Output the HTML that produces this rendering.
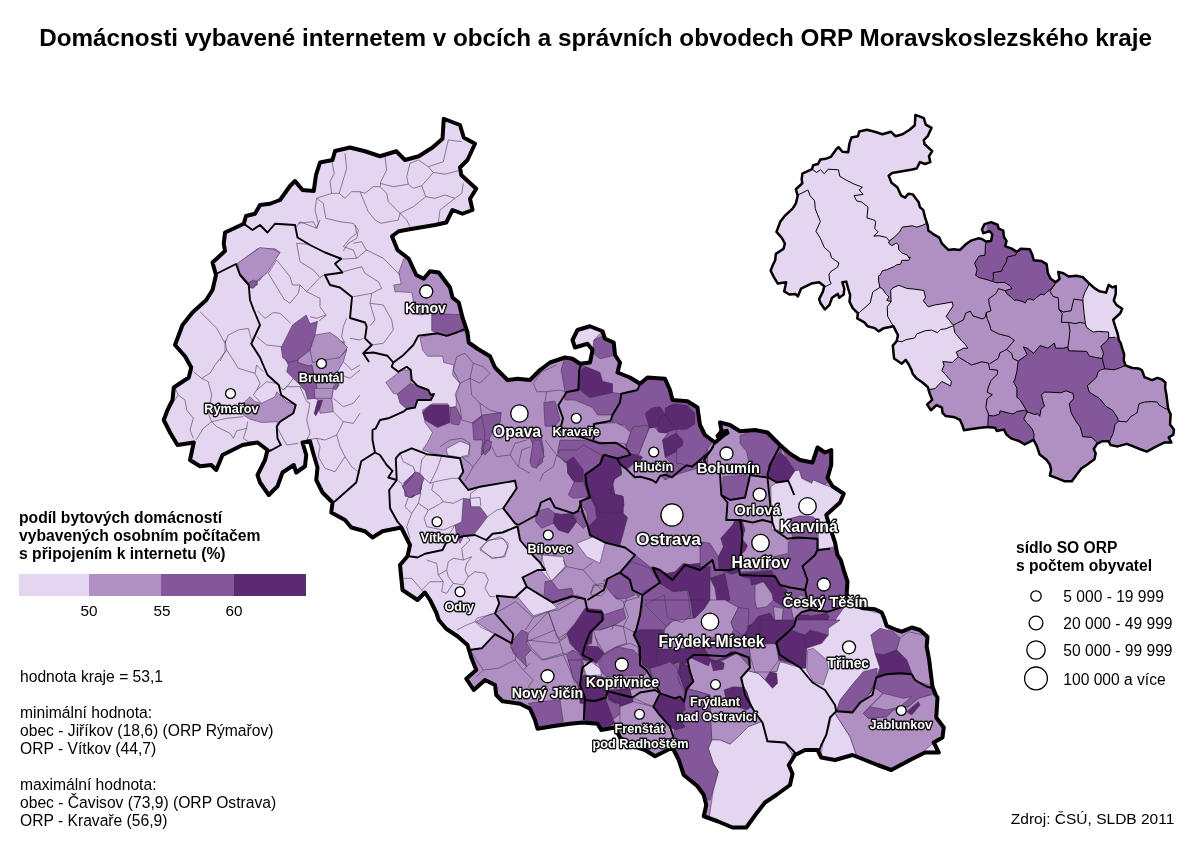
<!DOCTYPE html>
<html lang="cs"><head><meta charset="utf-8"><title>Domácnosti vybavené internetem</title>
<style>
html,body{margin:0;padding:0;background:#fff;}
body{width:1200px;height:850px;position:relative;overflow:hidden;font-family:"Liberation Sans",Arial,sans-serif;color:#000;}
.t{position:absolute;white-space:nowrap;line-height:1;}
#title{left:39.2px;top:26.3px;font-size:24.25px;font-weight:bold;}
.b{font-weight:bold;}
svg{position:absolute;left:0;top:0;}
</style></head><body>
<svg width="1200" height="850" viewBox="0 0 1200 850">
<defs><clipPath id="cp"><polygon points="443.75,118.75 460,125 463.75,137.5 475,143.75 467.5,160 460,167.5 461.25,175 476.25,188.75 470,198.75 472.5,210 462.5,213.75 452.5,210 446.25,222.5 435,225 412.5,228.75 398.75,231.25 392,236.25 397.5,250 408.75,258.75 416.25,275 423.75,278.75 430,271.25 438.75,272.5 450,287.5 452.5,297.5 458.75,302.5 462.5,317.5 467.5,332.5 468.75,342.5 477.5,348.75 490,356.25 495,367.5 507.5,380 517.5,378.75 530,380 540,370 550,362.5 565,357.5 572.5,358.75 580,363.75 590,362.5 592.5,350 587.5,343.75 575,347.5 572.5,340 577.5,330 590,326.25 602.5,331.25 605,338.75 613.75,342.5 615,355 620,362.5 617.5,372.5 630,377.5 640,383.75 647.5,377.5 665,378.75 670,390 672.5,400 687.5,401.25 697.5,407.5 700,425 705,435 715,442.5 722.5,436.25 720,422.5 730,425 740,431.25 755,430 767.5,432.5 780,445 790,453.75 800,460 812.5,462.5 817.5,447.5 825,452.5 831.25,450 831.25,465 827.5,478 832.5,486.25 843.75,493.75 840,502.5 826.25,515 830,527.5 835,542.5 837.5,555 840.8,560 844.2,571.7 847.5,581.7 846.7,593.3 850,603.3 863.3,608.3 875,609.2 881.7,612.5 884.2,618.3 886.7,625.8 896.7,630 901.7,631.7 911.7,627.5 920,630 927.5,636.7 926.7,646.7 929.2,660 930.8,673.3 932.5,686.7 935.8,695 937.5,697.5 936.25,717.5 943.75,727.5 942.5,737.5 933.75,742.5 938.75,752.5 925,752.5 910,760 891.25,770 877.5,765 865,760 852.5,755 835,760 821.25,757.5 817.5,750 805,750 795,755 788.75,765 792.5,773.75 790,785 776.25,795 765,802.5 756.25,813.75 746.25,827.5 732.5,827.5 717.5,821.25 703.75,816.25 706.25,805 703.75,795 697.5,786.25 683.75,775 678.75,760 672.5,747.5 655,756.25 645,750 630,745 620,737.5 615,727.5 601.25,730 597.5,723.75 582.5,722.5 570,723.75 552.5,726.25 537.5,728.75 535,720 530,708.75 520,703.75 502.5,701.25 496.25,695 495,685 485,680 473.75,690 466.25,678.75 476.25,670 471.25,657.5 467.5,645 457.5,636.25 446.25,628.75 438.75,620 436.25,612.5 430,600 425,592.5 417.5,600 402.5,590 400,565 407.5,556.25 410,545 405,535 401.25,527.5 382.5,531.25 372.5,537.5 365,531.25 351.25,527.5 345,520 331.25,512.5 332.5,502.5 322.5,492.5 316.25,480 317.5,467.5 313.75,455 310,441.25 302.5,442.5 306.25,455 305,466.25 296.25,472.5 293.75,465 282.5,472.5 277.5,486.25 268.75,495 260,482.5 257.5,475 265,460 267.5,450 257.5,442.5 242.5,445 222.5,455 216.25,470 211.25,465 200,466.25 190,460 193.75,442.5 177.5,445 170,432.5 163.75,420 167.5,410 172.5,400 173.75,387.5 188.75,377.5 191.25,367.5 185,356.25 175,345 182.5,325 192.5,312.5 206.25,300 212.5,290 216,275 212.5,262.5 225,251 223.75,243.75 225,232.5 243.75,223.75 246,216 255,213.75 260,205 270,203.75 280,200 290,186 295,181 302.5,190 313.75,191 316,175 320,162.5 332.5,160 335,151 350,147.5 365,151.25 380,156.25 396.25,151.25 405,160 418.75,156.25 432.5,147.5 442.5,138.75"/></clipPath></defs>
<g clip-path="url(#cp)">
<rect x="150" y="100" width="820" height="740" fill="#e4d5f1"/>
<polygon points="480,352 468.75,342.5 464.2,329.2 456.7,332.5 446.7,335.8 437.5,333.3 420,337.5 422.5,350 427.5,356.25 442.5,356.25 443.75,362.5 453.75,365 452.5,375 460,383.75 456.25,395 456.25,406.25 450,407.5 447.5,403.75 432.5,403.75 422.5,410 425,422.5 432.5,432.5 427.5,442.5 422.5,450 441.7,455.8 460,458.3 463.3,471.7 459.2,478.3 468.3,490 480,486.7 515,480.8 516.7,488.3 503.3,508.3 515,523.3 518.3,525 520,540 532.5,555 540,562.5 545,570 537.5,570 522.5,577.5 526.7,586.7 515,597.5 496.7,595.8 499.2,603.3 495,613.3 490,614.2 475.8,621.7 483.3,626.7 495,634.2 481.7,648.3 469.2,650 455,655 455,850 970,850 970,300 480,300" fill="#b08fc3" stroke="#3d2a4a" stroke-width="0.5"/>
<polygon points="403.75,258.75 410,260 416.25,275 423.75,278.75 430,271.25 438.75,272.5 450,287.5 452.5,297.5 470,312 470,316 456.7,315.8 430.8,313.3 420,315 415.8,313.3 411.7,292.5 397.5,291.7 395,292 393.75,285 401.25,283.75 398.75,272.5" fill="#b08fc3" stroke="#3d2a4a" stroke-width="0.5"/>
<polygon points="237.5,263.8 257.5,248.8 275.0,248.8 280.0,252.5 270.0,265.0 260.0,280.0 253.8,283.8 248.8,283.8 241.2,275.0" fill="#b08fc3" stroke="#3d2a4a" stroke-width="0.5"/>
<polygon points="385.8,382.5 401.7,370 410,370 410.8,383.3 397.5,394.2 393.3,393.3" fill="#b08fc3" stroke="#3d2a4a" stroke-width="0.5"/>
<polygon points="431.7,313.3 446.7,314.2 470,315 470,330 456.7,332.5 446.7,335.8 437.5,333.3 431.7,330.8" fill="#84579a" stroke="#3d2a4a" stroke-width="0.5"/>
<polygon points="250.0,282.0 256.2,280.5 257.5,284.5 252.5,288.0 249.5,286.2" fill="#84579a" stroke="#3d2a4a" stroke-width="0.5"/>
<polygon points="397.5,394.2 410.8,383.3 417.5,385.8 428.3,390 430.8,395 430.8,400 417.5,400 415,407.5 406.7,409 400,403.3" fill="#84579a" stroke="#3d2a4a" stroke-width="0.5"/>
<polygon points="450.0,407.5 456.2,407.5 461.2,417.5 458.8,425.0 451.2,423.8" fill="#84579a" stroke="#3d2a4a" stroke-width="0.5"/>
<polygon points="472.5,422.5 482.5,415.0 501.2,412.5 500.0,422.5 492.5,430.0 486.2,450.0 481.2,455.0 482.5,440.0 473.8,440.0" fill="#84579a" stroke="#3d2a4a" stroke-width="0.5"/>
<polygon points="530.0,437.5 541.2,436.2 543.8,450.0 542.5,462.5 536.2,467.5 530.0,460.0 535.0,450.0" fill="#84579a" stroke="#3d2a4a" stroke-width="0.5"/>
<polygon points="543.8,402.5 555.0,401.2 560.0,420.0 555.0,426.2 545.0,426.2" fill="#84579a" stroke="#3d2a4a" stroke-width="0.5"/>
<polygon points="561.2,370.0 565.0,356.2 575.0,358.8 583.8,366.2 578.8,372.5 578.8,388.8 565.0,392.5 563.8,385.0" fill="#84579a" stroke="#3d2a4a" stroke-width="0.5"/>
<polygon points="592.5,352.5 593.8,340.0 602.5,336.2 615.0,341.2 616.2,355.0 600.0,358.8" fill="#84579a" stroke="#3d2a4a" stroke-width="0.5"/>
<polygon points="565.0,392.5 578.8,388.8 590.0,397.5 612.5,392.5 621.2,393.8 620.0,402.5 612.5,415.0 597.5,415.0 592.5,407.5 575.0,400.0 565.0,400.0" fill="#84579a" stroke="#3d2a4a" stroke-width="0.5"/>
<polygon points="621.2,393.8 637.5,390.0 640.0,385.0 647.5,375.0 667.5,377.5 672.5,400.0 687.5,401.2 700.0,407.5 707.5,430.0 707.5,465.0 675.0,475.0 665.0,480.0 660.0,475.0 643.8,470.0 640.0,460.0 630.0,452.5 625.0,445.0 630.0,435.0 625.0,425.0 612.5,425.0 612.5,415.0 620.0,402.5" fill="#84579a" stroke="#3d2a4a" stroke-width="0.5"/>
<polygon points="560.0,440.0 582.5,440.0 602.5,443.8 612.5,440.0 625.0,447.5 630.0,452.5 617.5,457.5 602.5,455.0 600.0,465.0 590.0,475.0 585.0,475.0 575.0,460.0 565.0,462.5 557.5,452.5" fill="#84579a" stroke="#3d2a4a" stroke-width="0.5"/>
<polygon points="403.8,482.5 415.0,472.5 422.5,476.2 421.2,490.0 412.5,497.5 405.0,496.2" fill="#84579a" stroke="#3d2a4a" stroke-width="0.5"/>
<polygon points="422.5,412.5 430.0,405.0 448.8,405.0 450.0,422.5 437.5,427.5 425.0,420.0" fill="#5c2a70" stroke="#3d2a4a" stroke-width="0.5"/>
<polygon points="578.8,372.5 585.0,366.2 600.0,372.5 602.5,381.2 612.5,383.8 612.5,392.5 600.0,395.0 590.0,397.5 578.8,388.8" fill="#5c2a70" stroke="#3d2a4a" stroke-width="0.5"/>
<polygon points="665.0,440.0 680.0,433.8 683.8,447.5 667.5,456.2" fill="#5c2a70" stroke="#3d2a4a" stroke-width="0.5"/>
<polygon points="567.5,462.5 575.0,456.2 583.8,470.0 582.5,482.5 572.5,480.0 567.5,472.5" fill="#5c2a70" stroke="#3d2a4a" stroke-width="0.5"/>
<polygon points="585.0,475.0 600.0,465.0 602.5,455.0 617.5,457.5 620.0,470.0 612.5,482.5 615.0,495.0 620.0,502.0 587.5,502.0 583.8,485.0" fill="#5c2a70" stroke="#3d2a4a" stroke-width="0.5"/>
<polygon points="575.0,350.0 570.0,340.0 576.2,327.5 590.0,325.0 603.8,330.0 593.8,340.0 592.5,352.5" fill="#e4d5f1" stroke="#3d2a4a" stroke-width="0.5"/>
<polygon points="446.2,448.8 460.0,441.2 470.0,445.0 468.8,456.2 460.0,457.5 447.5,455.0" fill="#e4d5f1" stroke="#3d2a4a" stroke-width="0.5"/>
<polygon points="676.7,426.7 690.0,403.3 696.7,408.3 698.3,423.3 701.7,433.3 712.5,441.7 703.3,455.0 701.7,460.0 690.0,466.7 680.0,463.3 676.7,463.3" fill="#84579a" stroke="#3d2a4a" stroke-width="0.5"/>
<polygon points="723.3,476.7 746.7,475.0 750.0,480.0 746.7,490.0 745.0,498.3 730.0,499.2 721.7,495.0" fill="#84579a" stroke="#3d2a4a" stroke-width="0.5"/>
<polygon points="740.0,435.8 753.3,430.0 765.0,430.8 770.0,438.3 780.0,445.0 781.7,451.7 770.8,463.3 768.3,473.3 765.8,476.7 750.0,468.3 746.7,451.7 740.0,443.3" fill="#84579a" stroke="#3d2a4a" stroke-width="0.5"/>
<polygon points="780.0,451.7 786.7,458.3 795.0,470.8 793.3,478.3 788.3,480.8 776.7,482.5 768.3,476.7 768.3,465.0" fill="#5c2a70" stroke="#3d2a4a" stroke-width="0.5"/>
<polygon points="780.0,443.3 786.7,458.3 795.0,470.8 799.2,470.0 801.7,478.3 811.7,483.3 813.3,480.0 825.0,485.0 829.2,480.0 840.0,473.3 840.0,443.3 813.3,443.3 813.3,463.3 800.0,460.0 788.3,453.3" fill="#84579a" stroke="#3d2a4a" stroke-width="0.5"/>
<polygon points="795.0,470.8 799.2,470.0 801.7,478.3 811.7,483.3 813.3,480.0 825.0,485.0 835.0,488.3 846.7,493.3 846.7,530.0 771.7,530.0 770.8,486.7 776.7,482.5 788.3,480.8" fill="#e4d5f1" stroke="#3d2a4a" stroke-width="0.5"/>
<polygon points="700.0,541.7 710.0,543.3 718.3,556.7 719.2,570.0 740.8,571.7 771.7,570.0 773.3,556.7 788.3,553.3 788.3,541.7 793.3,539.2 806.7,537.5 816.7,540.0 816.7,550.0 833.3,546.7 838.3,550.0 845.0,571.7 846.7,593.3 845.0,606.7 833.3,623.3 826.7,623.3 823.3,630.0 826.7,650.0 683.3,650.0 683.3,566.7 700.0,566.7" fill="#84579a" stroke="#3d2a4a" stroke-width="0.5"/>
<polygon points="735.8,519.2 742.5,521.7 745.0,530.0 741.7,538.3 747.5,545.8 745.0,550.8 740.8,555.0 740.0,571.7 731.7,574.2 719.2,570.0 718.3,556.7 723.3,546.7 720.8,538.3 732.5,525.0" fill="#5c2a70" stroke="#3d2a4a" stroke-width="0.5"/>
<polygon points="790.8,518.3 800.0,515.8 813.3,516.7 818.3,521.7 816.7,540.0 806.7,537.5 793.3,539.2 790.8,530.0" fill="#84579a" stroke="#3d2a4a" stroke-width="0.5"/>
<polygon points="818.3,531.7 833.3,530.0 835.0,546.7 818.3,550.0" fill="#e4d5f1" stroke="#3d2a4a" stroke-width="0.5"/>
<polygon points="740.8,573.3 771.7,570.8 778.3,585.0 773.3,588.3 763.3,581.7 751.7,585.0 750.0,578.3 741.7,576.7" fill="#5c2a70" stroke="#3d2a4a" stroke-width="0.5"/>
<polygon points="710.0,578.3 725.0,573.3 730.0,600.0 725.0,603.3 716.7,600.0 715.0,588.3" fill="#5c2a70" stroke="#3d2a4a" stroke-width="0.5"/>
<polygon points="690.0,568.3 700.0,568.3 710.0,578.3 706.7,586.7 700.0,583.3 690.0,586.7" fill="#5c2a70" stroke="#3d2a4a" stroke-width="0.5"/>
<polygon points="763.3,581.7 773.3,588.3 778.3,585.0 786.7,590.0 783.3,606.7 773.3,600.0 771.7,593.3 763.3,591.7" fill="#5c2a70" stroke="#3d2a4a" stroke-width="0.5"/>
<polygon points="745.0,626.7 755.0,623.3 758.3,616.7 770.0,613.3 775.0,621.7 786.7,626.7 785.0,650.0 745.0,650.0" fill="#5c2a70" stroke="#3d2a4a" stroke-width="0.5"/>
<polygon points="806.7,616.7 826.7,613.3 829.2,616.7 823.3,630.0 826.7,650.0 786.7,650.0 786.7,633.3 796.7,631.7 800.0,616.7" fill="#5c2a70" stroke="#3d2a4a" stroke-width="0.5"/>
<polygon points="700.0,580.0 710.0,578.3 715.0,588.3 716.7,600.0 738.3,606.7 730.0,620.0 721.7,623.3 716.7,616.7 706.7,613.3 700.0,603.3" fill="#b08fc3" stroke="#3d2a4a" stroke-width="0.5"/>
<polygon points="755.0,585.0 763.3,581.7 771.7,593.3 773.3,600.0 766.7,606.7 756.7,608.3 755.0,600.0" fill="#b08fc3" stroke="#3d2a4a" stroke-width="0.5"/>
<polygon points="773.3,606.7 783.3,608.3 781.7,623.3 775.0,621.7" fill="#b08fc3" stroke="#3d2a4a" stroke-width="0.5"/>
<polygon points="790.0,603.3 800.0,595.0 806.7,596.7 808.3,608.3 800.0,616.7 793.3,618.3" fill="#b08fc3" stroke="#3d2a4a" stroke-width="0.5"/>
<polygon points="826.7,623.3 833.3,623.3 845.0,606.7 866.7,610.0 883.3,616.7 888.3,630.0 873.3,631.7 870.0,650.0 826.7,650.0 823.3,630.0" fill="#e4d5f1"/>
<polygon points="557.5,455.8 559.2,450.0 576.7,450.0 583.3,445.0 601.7,455.0 600.0,465.0 585.0,473.3 584.2,483.3 588.3,496.7 573.3,498.3 568.3,495.0 574.2,481.7 568.3,473.3 566.7,461.7" fill="#84579a" stroke="#3d2a4a" stroke-width="0.5"/>
<polygon points="566.7,461.7 573.3,456.7 583.3,470.0 583.3,481.7 574.2,481.7 568.3,473.3" fill="#5c2a70" stroke="#3d2a4a" stroke-width="0.5"/>
<polygon points="601.7,455.8 620.0,461.7 621.7,473.3 615.0,476.7 610.0,495.0 623.3,496.7 623.3,513.3 627.5,517.5 620.0,545.0 606.7,541.7 590.0,536.7 588.3,526.7 596.7,518.3 595.0,506.7 590.0,496.7 585.0,483.3 585.0,473.3 600.0,465.0" fill="#5c2a70" stroke="#3d2a4a" stroke-width="0.5"/>
<polygon points="580.0,502.5 590.0,496.7 595.0,506.7 596.7,518.3 588.3,526.7 586.7,511.7" fill="#84579a" stroke="#3d2a4a" stroke-width="0.5"/>
<polygon points="535.8,511.7 548.3,508.3 555.0,513.3 553.3,523.3 541.7,528.3 535.8,521.7" fill="#84579a" stroke="#3d2a4a" stroke-width="0.5"/>
<polygon points="555.0,513.3 561.7,514.2 573.3,513.3 576.7,521.7 568.3,533.3 558.3,530.0 553.3,523.3" fill="#5c2a70" stroke="#3d2a4a" stroke-width="0.5"/>
<polygon points="575.0,513.3 583.3,510.0 587.5,525.0 583.3,528.3 576.7,521.7" fill="#84579a" stroke="#3d2a4a" stroke-width="0.5"/>
<polygon points="576.7,543.3 593.3,536.7 605.0,543.3 600.0,563.3 586.7,556.7" fill="#e4d5f1" stroke="#3d2a4a" stroke-width="0.5"/>
<polygon points="541.7,555.0 561.7,556.7 563.3,566.7 550.0,581.0 541.7,571.7" fill="#e4d5f1" stroke="#3d2a4a" stroke-width="0.5"/>
<polygon points="620.0,571.7 635.0,555.0 650.0,566.7 668.3,581.0 603.3,581.0" fill="#84579a" stroke="#3d2a4a" stroke-width="0.5"/>
<polygon points="653.3,568.3 666.7,573.3 676.7,571.7 683.3,565.0 700.0,563.3 700.0,581.0 668.3,581.0" fill="#5c2a70" stroke="#3d2a4a" stroke-width="0.5"/>
<polygon points="516.7,595.8 526.7,587.5 544.2,595.8 553.3,604.2 557.5,608.3 533.3,615.8" fill="#e4d5f1" stroke="#3d2a4a" stroke-width="0.5"/>
<polygon points="545.0,581.7 551.7,580.8 558.3,590.0 571.7,588.3 573.3,594.2 554.2,603.3 544.2,595.0" fill="#84579a" stroke="#3d2a4a" stroke-width="0.5"/>
<polygon points="606.7,580.0 616.7,573.3 628.3,576.7 631.7,588.3 635.0,595.0 626.7,598.3 616.7,599.2 610.0,591.7 605.0,585.0" fill="#84579a" stroke="#3d2a4a" stroke-width="0.5"/>
<polygon points="620.0,573.3 631.7,561.7 650.0,568.3 660.0,583.3 643.3,591.7 638.3,596.7 631.7,588.3 628.3,576.7" fill="#84579a" stroke="#3d2a4a" stroke-width="0.5"/>
<polygon points="643.3,591.7 660.0,583.3 673.3,591.7 688.3,590.0 695.0,616.7 700.0,618.3 700.0,630.0 666.7,630.0 656.7,628.3 635.0,631.7 642.5,610.0 641.7,600.0" fill="#84579a" stroke="#3d2a4a" stroke-width="0.5"/>
<polygon points="651.7,568.3 668.3,578.3 676.7,570.0 683.3,563.3 700.0,566.7 710.0,566.7 710.0,618.3 695.0,616.7 688.3,590.0 673.3,591.7 660.0,583.3" fill="#5c2a70" stroke="#3d2a4a" stroke-width="0.5"/>
<polygon points="666.7,630.0 680.0,621.7 700.0,620.0 700.0,633.3 688.3,635.0" fill="#b08fc3" stroke="#3d2a4a" stroke-width="0.5"/>
<polygon points="633.3,631.7 650.0,629.2 657.5,633.3 658.3,648.3 656.7,666.7 646.7,668.3 638.3,655.0 638.3,643.3" fill="#5c2a70" stroke="#3d2a4a" stroke-width="0.5"/>
<polygon points="658.3,648.3 666.7,643.3 700.0,633.3 710.0,633.3 710.0,653.3 688.3,656.7 686.7,663.3 666.7,666.7 656.7,660.0" fill="#5c2a70" stroke="#3d2a4a" stroke-width="0.5"/>
<polygon points="646.7,670.0 656.7,666.7 666.7,666.7 676.7,668.3 678.3,686.7 683.3,701.0 660.0,701.0 660.0,691.7" fill="#84579a" stroke="#3d2a4a" stroke-width="0.5"/>
<polygon points="676.7,668.3 681.7,663.3 688.3,666.7 691.7,683.3 685.0,693.3 678.3,686.7" fill="#5c2a70" stroke="#3d2a4a" stroke-width="0.5"/>
<polygon points="688.3,658.3 700.0,655.0 710.0,655.0 710.0,701.0 685.0,701.0 691.7,683.3" fill="#b08fc3" stroke="#3d2a4a" stroke-width="0.5"/>
<polygon points="575.0,623.3 585.0,608.3 601.7,610.0 604.2,620.0 592.5,630.0 591.7,643.3 586.7,645.0 587.5,653.3 581.7,656.7 570.0,643.3 566.7,633.3" fill="#5c2a70" stroke="#3d2a4a" stroke-width="0.5"/>
<polygon points="586.7,645.8 598.3,646.7 604.2,653.3 596.7,663.3 583.3,660.0 581.7,656.7 587.5,653.3" fill="#5c2a70" stroke="#3d2a4a" stroke-width="0.5"/>
<polygon points="603.3,615.0 623.3,608.3 625.8,618.3 615.0,625.0 600.0,630.0 593.3,630.0 604.2,620.0" fill="#84579a" stroke="#3d2a4a" stroke-width="0.5"/>
<polygon points="598.3,663.3 604.2,653.3 616.7,646.7 633.3,650.0 638.3,655.0 646.7,670.0 645.0,675.0 606.7,676.7 602.5,673.3" fill="#84579a" stroke="#3d2a4a" stroke-width="0.5"/>
<polygon points="583.3,663.3 593.3,661.7 602.5,673.3 600.0,676.7 585.0,675.0" fill="#e4d5f1" stroke="#3d2a4a" stroke-width="0.5"/>
<polygon points="510.0,643.3 521.7,630.0 528.3,633.3 526.7,643.3 530.8,650.0 525.0,656.7 526.7,666.7 520.0,660.0 513.3,653.3" fill="#84579a" stroke="#3d2a4a" stroke-width="0.5"/>
<polygon points="566.7,655.0 573.3,650.0 581.7,656.7 583.3,663.3 583.3,671.7 578.3,686.7 573.3,676.7" fill="#84579a" stroke="#3d2a4a" stroke-width="0.5"/>
<polygon points="578.3,686.7 583.3,675.0 601.7,676.7 606.7,678.3 606.7,693.3 603.3,703.3 580.0,703.3" fill="#5c2a70" stroke="#3d2a4a" stroke-width="0.5"/>
<polygon points="608.3,691.7 626.7,690.0 633.3,703.3 608.3,703.3" fill="#5c2a70" stroke="#3d2a4a" stroke-width="0.5"/>
<polygon points="656.7,693.3 670.0,691.7 676.7,703.3 656.7,703.3" fill="#5c2a70" stroke="#3d2a4a" stroke-width="0.5"/>
<polygon points="528.3,703.3 540.0,701.7 560.0,700.0 563.3,721.7 540.0,730.0 533.3,731.7 535.0,716.7" fill="#84579a" stroke="#3d2a4a" stroke-width="0.5"/>
<polygon points="583.3,700.0 580.0,685.0 586.7,680.0 606.7,688.3 605.0,696.7 595.0,700.8" fill="#5c2a70" stroke="#3d2a4a" stroke-width="0.5"/>
<polygon points="583.3,700.8 595.0,701.7 605.0,697.5 613.3,720.0 615.0,723.3 600.0,731.7 585.0,726.7" fill="#5c2a70" stroke="#3d2a4a" stroke-width="0.5"/>
<polygon points="605.0,697.5 623.3,708.3 625.0,710.0 613.3,719.2" fill="#84579a" stroke="#3d2a4a" stroke-width="0.5"/>
<polygon points="608.3,690.0 630.0,688.3 633.3,703.3 623.3,707.5 608.3,696.7" fill="#5c2a70" stroke="#3d2a4a" stroke-width="0.5"/>
<polygon points="568.3,660.0 581.7,660.0 580.8,670.0 580.0,685.0 573.3,678.3" fill="#84579a" stroke="#3d2a4a" stroke-width="0.5"/>
<polygon points="583.3,666.7 590.8,661.7 600.0,668.3 601.7,675.0 586.7,675.8" fill="#e4d5f1" stroke="#3d2a4a" stroke-width="0.5"/>
<polygon points="687.5,660.0 693.3,655.0 708.3,656.7 720.0,658.3 726.7,652.5 736.7,651.7 746.7,656.7 750.0,665.0 748.3,670.8 740.0,678.3 746.7,691.7 751.7,706.7 761.7,721.7 748.3,726.7 736.7,738.3 730.0,744.2 720.0,740.0 711.7,740.0 710.8,723.3 710.0,695.0 686.7,688.3 693.3,681.7 690.0,671.7" fill="#b08fc3" stroke="#3d2a4a" stroke-width="0.5"/>
<polygon points="740.0,678.3 748.3,670.8 758.3,673.3 765.0,680.0 770.0,671.7 776.7,671.7 780.0,661.7 808.3,670.0 836.7,678.3 836.7,756.7 791.7,753.3 785.0,743.3 766.7,741.7 765.0,733.3 761.7,721.7 751.7,706.7 746.7,691.7" fill="#e4d5f1" stroke="#3d2a4a" stroke-width="0.5"/>
<polygon points="708.3,748.3 711.7,740.0 720.0,740.0 730.0,744.2 736.7,738.3 748.3,726.7 761.7,721.7 765.0,733.3 766.7,741.7 785.0,743.3 791.7,753.3 803.3,856.7 703.3,856.7 713.3,790.0 718.3,771.7 713.3,763.3" fill="#e4d5f1" stroke="#3d2a4a" stroke-width="0.5"/>
<polygon points="684.2,701.7 686.7,688.3 710.0,695.0 710.8,723.3 711.7,740.0 708.3,748.3 713.3,763.3 718.3,771.7 713.3,790.0 710.0,800.0 686.7,800.0 678.3,756.7 673.3,736.7 675.0,730.0 685.0,726.7 678.3,716.7 685.0,710.0" fill="#84579a" stroke="#3d2a4a" stroke-width="0.5"/>
<polygon points="653.3,706.7 660.0,693.3 675.0,698.3 680.0,696.7 684.2,701.7 685.0,710.0 678.3,716.7 685.0,726.7 675.0,730.0 670.0,726.7 658.3,713.3" fill="#5c2a70" stroke="#3d2a4a" stroke-width="0.5"/>
<polygon points="677.5,668.3 683.3,663.3 690.0,671.7 691.7,681.7 686.7,688.3 684.2,691.7 678.3,680.0" fill="#5c2a70" stroke="#3d2a4a" stroke-width="0.5"/>
<polygon points="710.8,661.7 718.3,659.2 724.2,663.3 723.3,669.2 713.3,670.8" fill="#5c2a70" stroke="#3d2a4a" stroke-width="0.5"/>
<polygon points="724.2,690.0 733.3,686.7 743.3,687.5 746.7,691.7 751.7,706.7 746.7,710.0 736.7,706.7 726.7,703.3" fill="#5c2a70" stroke="#3d2a4a" stroke-width="0.5"/>
<polygon points="765.0,680.0 770.0,671.7 776.7,673.3 777.5,683.3 772.5,688.3" fill="#5c2a70" stroke="#3d2a4a" stroke-width="0.5"/>
<polygon points="748.3,670.8 753.3,650.0 775.0,648.3 780.0,661.7 776.7,671.7 770.0,671.7 765.0,680.0 758.3,673.3" fill="#b08fc3" stroke="#3d2a4a" stroke-width="0.5"/>
<polygon points="777.5,636.7 803.3,636.7 808.3,650.0 805.0,670.0 796.7,665.0 780.0,656.7 775.0,648.3" fill="#5c2a70" stroke="#3d2a4a" stroke-width="0.5"/>
<polygon points="808.3,650.0 820.0,646.7 830.0,650.0 830.0,681.7 811.7,673.3 806.7,665.0" fill="#b08fc3" stroke="#3d2a4a" stroke-width="0.5"/>
<polygon points="642.5,600.0 692.0,600.0 693.5,618.0 669.5,622.5 663.5,630.0 639.5,630.0 635.0,633.0 642.5,609.0" fill="#84579a" stroke="#3d2a4a" stroke-width="0.5"/>
<polygon points="690.5,600.0 704.0,600.0 705.5,612.0 698.0,619.5 693.5,618.0" fill="#5c2a70" stroke="#3d2a4a" stroke-width="0.5"/>
<polygon points="729.5,636.0 743.0,636.0 749.0,645.0 750.5,657.0 749.0,666.0 737.0,652.5 731.0,651.0 725.0,657.0 716.0,661.5 710.0,658.5 704.0,648.0 716.0,634.5" fill="#84579a" stroke="#3d2a4a" stroke-width="0.5"/>
<polygon points="665.0,628.5 672.5,621.0 695.0,618.0 704.0,609.0 710.0,600.0 725.0,600.0 738.5,607.5 731.0,622.5 734.0,630.0 729.5,636.0 716.0,634.5 704.0,648.0 657.5,649.5 663.5,639.0" fill="#b08fc3" stroke="#3d2a4a" stroke-width="0.5"/>
<polygon points="635.0,633.0 639.5,630.0 663.5,630.0 665.0,639.0 657.5,649.5 656.0,660.0 659.0,666.0 648.5,669.0 642.5,664.5 639.5,649.5" fill="#5c2a70" stroke="#3d2a4a" stroke-width="0.5"/>
<polygon points="657.5,649.5 704.0,648.0 710.0,658.5 716.0,661.5 725.0,657.0 731.0,651.0 735.5,654.0 723.5,660.0 710.0,661.5 708.5,666.0 689.0,657.0 686.0,663.0 680.0,661.5 665.0,667.5 659.0,666.0 656.0,660.0" fill="#5c2a70" stroke="#3d2a4a" stroke-width="0.5"/>
<polygon points="731.0,622.5 738.5,607.5 749.0,609.0 747.5,630.0 743.0,636.0 734.0,630.0" fill="#84579a" stroke="#3d2a4a" stroke-width="0.5"/>
<polygon points="747.5,630.0 758.0,616.5 770.0,613.5 776.0,622.5 782.0,637.5 776.0,643.5 770.0,639.0 764.0,634.5 755.0,637.5 744.5,637.5" fill="#5c2a70" stroke="#3d2a4a" stroke-width="0.5"/>
<polygon points="749.0,645.0 776.0,643.5 779.0,660.0 770.0,672.0 755.0,672.0 750.5,657.0" fill="#b08fc3" stroke="#3d2a4a" stroke-width="0.5"/>
<polygon points="776.0,643.5 785.0,636.0 794.0,625.5 800.0,615.0 809.0,615.0 809.0,669.0 789.5,663.0 779.0,660.0" fill="#5c2a70" stroke="#3d2a4a" stroke-width="0.5"/>
<polygon points="659.0,666.0 665.0,667.5 680.0,661.5 678.5,672.0 686.0,693.0 680.0,699.0 659.0,693.0 650.0,672.0 648.5,669.0" fill="#84579a" stroke="#3d2a4a" stroke-width="0.5"/>
<polygon points="678.5,672.0 683.0,663.0 689.0,666.0 693.5,681.0 686.0,693.0" fill="#5c2a70" stroke="#3d2a4a" stroke-width="0.5"/>
<polygon points="650.0,668.3 661.7,665.0 670.0,661.7 677.5,668.3 678.3,680.0 684.2,691.7 684.2,701.7 680.0,696.7 675.0,698.3 660.0,693.3 653.3,683.3" fill="#84579a" stroke="#3d2a4a" stroke-width="0.5"/>
<polygon points="630.0,690.0 653.3,683.3 660.0,693.3 653.3,706.7 645.0,703.3 630.0,696.7" fill="#b08fc3" stroke="#3d2a4a" stroke-width="0.5"/>
<polygon points="620.0,690.0 630.0,690.0 633.3,701.7 620.0,706.7" fill="#5c2a70" stroke="#3d2a4a" stroke-width="0.5"/>
<polygon points="620.0,706.7 633.3,701.7 653.3,706.7 658.3,713.3 670.0,726.7 673.3,736.7 676.7,748.3 653.3,756.7 636.7,756.7 620.0,746.7" fill="#b08fc3" stroke="#3d2a4a" stroke-width="0.5"/>
<polygon points="795.0,620.0 791.7,630.0 776.7,645.0 781.7,655.0 801.7,668.3 813.3,681.7 823.3,686.7 833.3,700.0 836.7,710.0 840.0,700.0 853.3,683.3 863.3,671.7 876.7,668.3 880.0,668.3 875.0,653.3 870.8,635.0 880.0,628.3 886.7,613.3 843.3,613.3 840.0,620.0" fill="#e4d5f1"/>
<polygon points="835.0,713.3 850.0,736.7 861.7,770.0 818.3,770.0 823.3,741.7 828.3,730.0 831.7,715.0" fill="#e4d5f1" stroke="#3d2a4a" stroke-width="0.5"/>
<polygon points="776.7,645.0 791.7,630.0 805.0,635.0 806.7,648.3 805.8,668.3 801.7,668.3 781.7,655.0" fill="#5c2a70" stroke="#3d2a4a" stroke-width="0.5"/>
<polygon points="803.3,635.0 810.0,630.0 828.3,635.0 821.7,643.3 806.7,648.3" fill="#5c2a70" stroke="#3d2a4a" stroke-width="0.5"/>
<polygon points="760.0,620.0 795.0,620.0 791.7,630.0 776.7,645.0 770.0,641.7 760.0,641.7" fill="#5c2a70" stroke="#3d2a4a" stroke-width="0.5"/>
<polygon points="795.0,620.0 840.0,620.0 828.3,628.3 828.3,635.0 810.0,630.0 805.0,635.0 791.7,630.0" fill="#84579a" stroke="#3d2a4a" stroke-width="0.5"/>
<polygon points="807.5,650.0 813.3,648.3 826.7,660.0 828.3,670.0 823.3,685.0 813.3,681.7 806.7,670.0" fill="#b08fc3" stroke="#3d2a4a" stroke-width="0.5"/>
<polygon points="870.8,635.0 880.0,628.3 893.3,631.7 900.0,638.3 896.7,650.0 883.3,655.0 875.0,653.3" fill="#84579a" stroke="#3d2a4a" stroke-width="0.5"/>
<polygon points="900.0,638.3 908.3,631.7 923.3,635.0 936.7,653.3 936.7,686.7 916.7,681.7 911.7,673.3 906.7,660.0 896.7,650.0" fill="#b08fc3" stroke="#3d2a4a" stroke-width="0.5"/>
<polygon points="875.0,653.3 883.3,655.0 896.7,650.0 906.7,660.0 911.7,673.3 886.7,673.3 876.7,676.7 880.0,668.3" fill="#5c2a70" stroke="#3d2a4a" stroke-width="0.5"/>
<polygon points="836.7,710.0 840.0,700.0 853.3,683.3 863.3,671.7 876.7,668.3 876.7,676.7 870.0,693.3 853.3,711.7" fill="#84579a" stroke="#3d2a4a" stroke-width="0.5"/>
<polygon points="836.7,710.0 853.3,711.7 870.0,693.3 873.3,686.7 883.3,693.3 870.0,706.7 863.3,713.3 868.3,718.3 886.7,716.7 893.3,710.0 908.3,706.7 918.3,698.3 933.3,693.3 953.3,723.3 953.3,770.0 861.7,770.0 850.0,736.7 835.0,713.3" fill="#b08fc3" stroke="#3d2a4a" stroke-width="0.5"/>
<polygon points="876.7,676.7 886.7,673.3 911.7,674.2 916.7,681.7 930.0,686.7 936.7,693.3 918.3,698.3 908.3,706.7 893.3,710.0 886.7,716.7 868.3,718.3 863.3,713.3 870.0,706.7 883.3,693.3 873.3,686.7 870.0,693.3" fill="#84579a" stroke="#3d2a4a" stroke-width="0.5"/>
<polygon points="883.3,693.3 903.3,698.3 911.7,696.7 900.0,706.7 886.7,710.0 870.0,706.7" fill="#b08fc3" stroke="#3d2a4a" stroke-width="0.5"/>
<polygon points="906.7,711.7 918.3,701.7 920.0,705.0 911.7,715.0" fill="#5c2a70" stroke="#3d2a4a" stroke-width="0.5"/>
<polygon points="925.0,750.0 933.3,743.3 941.7,753.3 928.3,758.3" fill="#e4d5f1" stroke="#3d2a4a" stroke-width="0.5"/>
<polygon points="402.5,486.2 415.0,472.5 422.5,480.0 420.0,492.5 410.0,497.5" fill="#84579a" stroke="#3d2a4a" stroke-width="0.5"/>
<polygon points="402.5,486.7 410.0,480.0 415.0,471.7 420.0,473.3 424.2,478.3 420.0,488.3 420.8,493.3 408.3,497.5 405.0,491.7" fill="#84579a" stroke="#3d2a4a" stroke-width="0.5"/>
<polygon points="455.0,525.0 461.7,521.7 463.3,498.3 470.0,499.2 470.8,506.7 480.0,506.7 487.5,516.7 480.0,526.7 473.3,535.0 463.3,536.7 460.0,543.3 456.7,536.7" fill="#84579a" stroke="#3d2a4a" stroke-width="0.5"/>
<polygon points="481.7,448.3 486.7,440.0 491.7,441.7 490.0,450.0 485.0,455.0" fill="#84579a" stroke="#3d2a4a" stroke-width="0.5"/>
<polygon points="530.0,461.7 533.3,440.0 540.0,440.0 544.2,456.7 540.0,460.0 536.7,468.3 531.7,466.7" fill="#84579a" stroke="#3d2a4a" stroke-width="0.5"/>
<polygon points="542.5,555.0 563.3,556.7 565.0,566.7 551.7,581.0 546.7,573.3 542.5,560.0" fill="#e4d5f1" stroke="#3d2a4a" stroke-width="0.5"/>
<polygon points="237.5,263.3 260.0,247.5 273.3,249.2 280.0,252.5 266.7,273.3 256.7,280.8 248.3,282.5 240.0,273.3" fill="#b08fc3" stroke="#3d2a4a" stroke-width="0.5"/>
<polygon points="248.3,283.3 253.3,280.0 257.5,282.5 253.3,288.3 250.0,287.5" fill="#84579a" stroke="#3d2a4a" stroke-width="0.5"/>
<polygon points="243.3,403.3 250.0,396.7 255.0,401.7 261.7,403.3 275.0,396.7 276.7,391.7 280.0,395.0 286.7,401.7 295.8,405.0 293.3,413.3 280.0,421.7 276.7,426.7 277.5,421.7 261.7,422.5 250.0,419.2 243.3,415.0" fill="#b08fc3" stroke="#3d2a4a" stroke-width="0.5"/>
<polygon points="298.3,358.3 305.0,353.3 311.7,348.3 316.7,340.0 331.7,340.0 330.0,348.3 341.7,355.0 346.7,350.0 343.3,361.7 336.7,373.3 333.3,388.3 331.7,398.3 333.3,411.7 320.0,413.3 318.3,400.0 315.0,398.3 316.7,386.7 313.3,371.7 311.7,365.0 308.3,365.8 297.5,362.5" fill="#b08fc3" stroke="#3d2a4a" stroke-width="0.5"/>
<polygon points="281.7,347.5 290.0,340.0 310.0,336.7 311.7,348.3 305.0,353.3 298.3,358.3 297.5,362.5 308.3,365.8 311.7,365.0 313.3,371.7 316.7,386.7 315.0,398.3 307.5,399.2 305.0,390.0 293.3,378.3 286.7,371.7 288.3,365.0 283.3,355.0" fill="#84579a" stroke="#3d2a4a" stroke-width="0.5"/>
<polygon points="330.0,348.3 333.3,340.0 343.3,341.7 346.7,350.0 341.7,355.0" fill="#b08fc3" stroke="#3d2a4a" stroke-width="0.5"/>
<polygon points="314.2,388.3 333.3,388.3 331.7,398.3 315.0,398.3" fill="#b08fc3" stroke="#3d2a4a" stroke-width="0.5"/>
<polygon points="314.2,413.3 317.5,400.8 322.5,400.0 320.0,408.3 315.8,415.8" fill="#5c2a70" stroke="#3d2a4a" stroke-width="0.5"/>
<polygon points="333.3,388.3 336.7,381.7 339.2,385.0 335.8,390.0" fill="#84579a" stroke="#3d2a4a" stroke-width="0.5"/>
<polygon points="281.2,347.5 292.5,325.0 306.2,315.0 310.0,323.8 317.5,321.2 315.0,335.0 310.0,350.0 297.5,360.0 288.8,362.5 282.5,357.5" fill="#84579a" stroke="#3d2a4a" stroke-width="0.5"/>
<polygon points="310.0,350.0 315.0,335.0 330.0,332.5 337.5,337.5 347.5,347.5 340.0,357.5 325.0,360.0 312.5,362.5" fill="#b08fc3" stroke="#3d2a4a" stroke-width="0.5"/>
<polygon points="630.7,432.0 633.3,426.7 646.7,425.3 649.3,428.0 638.7,454.7 630.7,454.0 626.7,449.3 626.7,444.0" fill="#84579a" stroke="#3d2a4a" stroke-width="0.5"/>
<polygon points="593.3,424.0 616.0,422.7 624.0,426.7 630.7,432.0 626.7,444.0 616.0,442.7 606.7,444.0 593.3,440.0 594.7,433.3" fill="#b08fc3" stroke="#3d2a4a" stroke-width="0.5"/>
<polygon points="617.3,458.7 630.7,454.0 642.7,457.3 638.7,462.7 633.3,464.0 626.7,469.3 620.0,464.0" fill="#5c2a70" stroke="#3d2a4a" stroke-width="0.5"/>
<polygon points="638.7,454.7 649.3,428.0 654.7,427.3 658.7,432.0 668.0,433.3 662.7,440.0 665.3,457.3 672.0,464.0 665.3,474.7 660.0,476.0 656.0,482.7 652.0,480.0 640.0,476.7 634.7,477.3 633.3,464.0 638.7,462.7 642.7,457.3" fill="#b08fc3" stroke="#3d2a4a" stroke-width="0.5"/>
<polygon points="662.7,440.0 676.0,433.3 682.7,440.0 682.7,445.3 665.3,457.3" fill="#5c2a70" stroke="#3d2a4a" stroke-width="0.5"/>
<polygon points="645.3,413.3 652.0,408.0 660.0,406.7 665.3,414.7 660.0,417.3 657.3,426.7 649.3,428.0" fill="#5c2a70" stroke="#3d2a4a" stroke-width="0.5"/>
<polygon points="660.0,417.3 665.3,414.7 670.7,422.7 676.0,429.3 665.3,432.7 658.7,432.0 657.3,426.7" fill="#5c2a70" stroke="#3d2a4a" stroke-width="0.5"/>
<polygon points="665.3,408.0 673.3,404.0 686.7,405.3 694.7,413.3 694.7,424.0 686.7,429.3 676.0,429.3 670.7,422.7 665.3,414.7" fill="#5c2a70" stroke="#3d2a4a" stroke-width="0.5"/>
<polygon points="604.0,454.7 617.3,458.7 620.0,464.0 621.3,474.7 613.3,480.0 610.7,493.3 622.7,496.0 624.0,505.3 620.0,513.1 600.0,513.1 592.0,496.0 586.7,485.3 585.3,474.7 600.0,464.0" fill="#5c2a70" stroke="#3d2a4a" stroke-width="0.5"/>
<polyline points="396.7,480.0 401.7,483.3 402.5,486.7" fill="none" stroke="#4a3a55" stroke-width="0.6"/>
<polyline points="424.2,478.3 430.0,483.3 435.0,481.7 451.7,478.3 459.2,478.3" fill="none" stroke="#4a3a55" stroke-width="0.6"/>
<polyline points="420.8,493.3 418.3,503.3 428.3,510.0 424.2,518.3 426.7,526.7" fill="none" stroke="#4a3a55" stroke-width="0.6"/>
<polyline points="408.3,497.5 405.0,506.7 411.7,513.3 418.3,503.3" fill="none" stroke="#4a3a55" stroke-width="0.6"/>
<polyline points="433.3,483.3 431.7,490.0 440.0,496.7 443.3,501.7 453.3,503.3 463.3,498.3" fill="none" stroke="#4a3a55" stroke-width="0.6"/>
<polyline points="470.8,506.7 470.0,498.3 480.0,497.5 480.8,505.8" fill="none" stroke="#4a3a55" stroke-width="0.6"/>
<polyline points="480.0,486.7 470.8,493.3 470.0,498.3" fill="none" stroke="#4a3a55" stroke-width="0.6"/>
<polyline points="487.5,516.7 496.7,510.0 503.3,508.3" fill="none" stroke="#4a3a55" stroke-width="0.6"/>
<polyline points="411.7,513.3 406.7,526.7 410.0,538.3" fill="none" stroke="#4a3a55" stroke-width="0.6"/>
<polyline points="480.0,548.3 488.3,540.0 503.3,538.3 508.3,546.7 503.3,556.7 491.7,558.3 480.0,548.3" fill="none" stroke="#4a3a55" stroke-width="0.6"/>
<polyline points="400.0,453.3 403.3,461.7 413.3,466.7 415.0,471.7" fill="none" stroke="#4a3a55" stroke-width="0.6"/>
<polyline points="420.0,473.3 421.7,460.0 426.7,454.2" fill="none" stroke="#4a3a55" stroke-width="0.6"/>
<polyline points="441.7,455.8 436.7,470.0 430.0,483.3" fill="none" stroke="#4a3a55" stroke-width="0.6"/>
<polyline points="396.7,480.0 389.2,490.0 390.0,506.7 397.5,521.7 401.7,526.7" fill="none" stroke="#4a3a55" stroke-width="0.6"/>
<polyline points="428.3,510.0 435.0,506.7 443.3,501.7" fill="none" stroke="#4a3a55" stroke-width="0.6"/>
<polyline points="426.7,526.7 443.3,530.0 455.0,525.0" fill="none" stroke="#4a3a55" stroke-width="0.6"/>
<polyline points="446.7,541.7 450.0,533.3 455.0,525.0" fill="none" stroke="#4a3a55" stroke-width="0.6"/>
<polyline points="331.7,160.0 334.2,173.3 330.0,181.7 331.7,193.3 316.7,198.3 315.0,210.0 318.3,223.3 316.7,228.3 300.0,221.7 296.7,226.7" fill="none" stroke="#4a3a55" stroke-width="0.6"/>
<polyline points="345.0,153.3 346.7,168.3 341.7,185.0 339.2,193.3 331.7,193.3" fill="none" stroke="#4a3a55" stroke-width="0.6"/>
<polyline points="339.2,193.3 345.0,198.3 351.7,191.7 360.0,191.7 365.0,193.3 373.3,186.7 380.0,186.7" fill="none" stroke="#4a3a55" stroke-width="0.6"/>
<polyline points="385.0,156.7 386.7,170.0 380.8,181.7 380.0,186.7 386.7,193.3 388.3,201.7 400.0,213.3 398.3,220.0 380.8,223.3 375.0,220.0 368.3,211.7 360.0,191.7" fill="none" stroke="#4a3a55" stroke-width="0.6"/>
<polyline points="380.0,183.3 393.3,186.7 408.3,184.2 413.3,188.3 421.7,185.8 425.8,196.7 413.3,206.7 400.0,213.3" fill="none" stroke="#4a3a55" stroke-width="0.6"/>
<polyline points="408.3,184.2 406.7,176.7 410.0,163.3 418.3,160.0" fill="none" stroke="#4a3a55" stroke-width="0.6"/>
<polyline points="418.3,160.0 428.3,166.7 433.3,172.5 421.7,185.8" fill="none" stroke="#4a3a55" stroke-width="0.6"/>
<polyline points="428.3,166.7 443.3,161.7 448.3,140.0" fill="none" stroke="#4a3a55" stroke-width="0.6"/>
<polyline points="448.3,140.0 461.7,141.7" fill="none" stroke="#4a3a55" stroke-width="0.6"/>
<polyline points="433.3,172.5 445.0,174.2 458.3,170.8" fill="none" stroke="#4a3a55" stroke-width="0.6"/>
<polyline points="425.8,196.7 435.0,198.3 445.0,195.0 455.0,198.3 461.7,193.3 463.3,183.3" fill="none" stroke="#4a3a55" stroke-width="0.6"/>
<polyline points="455.0,198.3 440.0,210.0 438.3,223.3" fill="none" stroke="#4a3a55" stroke-width="0.6"/>
<polyline points="400.0,213.3 406.7,220.0 410.0,226.7" fill="none" stroke="#4a3a55" stroke-width="0.6"/>
<polyline points="316.7,198.3 323.3,203.3 325.8,218.3 340.0,221.7 353.3,223.3 358.3,230.0 356.7,238.3 348.3,243.3 343.3,251.0" fill="none" stroke="#4a3a55" stroke-width="0.6"/>
<polyline points="353.3,243.3 361.7,241.7 366.7,251.0" fill="none" stroke="#4a3a55" stroke-width="0.6"/>
<polyline points="296.7,243.3 300.0,261.7 313.3,270.0 320.0,277.5 325.0,274.2" fill="none" stroke="#4a3a55" stroke-width="0.6"/>
<polyline points="296.7,243.3 308.3,244.2" fill="none" stroke="#4a3a55" stroke-width="0.6"/>
<polyline points="268.3,273.3 276.7,260.0 290.0,276.7 292.5,285.0 300.0,285.0 298.3,293.3 290.0,303.3 284.2,299.2 268.3,273.3" fill="none" stroke="#4a3a55" stroke-width="0.6"/>
<polyline points="300.0,285.0 306.7,291.7 320.0,277.5" fill="none" stroke="#4a3a55" stroke-width="0.6"/>
<polyline points="306.7,291.7 316.7,296.7 320.0,298.3 320.0,306.7 325.8,315.0 316.7,318.3 310.0,316.7" fill="none" stroke="#4a3a55" stroke-width="0.6"/>
<polyline points="258.3,311.7 265.0,318.3 273.3,312.5 280.0,313.3 290.8,323.3" fill="none" stroke="#4a3a55" stroke-width="0.6"/>
<polyline points="256.7,336.7 266.7,345.0 281.7,346.7" fill="none" stroke="#4a3a55" stroke-width="0.6"/>
<polyline points="200.0,311.7 216.7,328.3 225.0,343.3 228.3,335.0 238.3,330.0 248.3,328.3 251.7,340.0" fill="none" stroke="#4a3a55" stroke-width="0.6"/>
<polyline points="225.0,343.3 225.0,351.7 220.0,361.0" fill="none" stroke="#4a3a55" stroke-width="0.6"/>
<polyline points="343.3,271.7 361.7,266.7 365.0,273.3 378.3,281.7 381.7,288.3 371.7,293.3 353.3,296.7" fill="none" stroke="#4a3a55" stroke-width="0.6"/>
<polyline points="341.7,259.2 356.7,258.3 353.3,250.0 343.3,246.7 350.0,238.3 356.7,233.3 355.0,225.0" fill="none" stroke="#4a3a55" stroke-width="0.6"/>
<polyline points="356.7,258.3 366.7,250.0 383.3,258.3 393.3,268.3 400.0,275.0" fill="none" stroke="#4a3a55" stroke-width="0.6"/>
<polyline points="371.7,293.3 370.0,303.3 375.0,320.0 370.0,325.8" fill="none" stroke="#4a3a55" stroke-width="0.6"/>
<polyline points="370.0,303.3 383.3,305.0 391.7,320.0 393.3,330.0 383.3,343.3 371.7,345.0" fill="none" stroke="#4a3a55" stroke-width="0.6"/>
<polyline points="346.7,318.3 343.3,326.7 341.7,336.7 345.0,343.3" fill="none" stroke="#4a3a55" stroke-width="0.6"/>
<polyline points="350.0,338.3 360.0,340.0 363.3,338.3" fill="none" stroke="#4a3a55" stroke-width="0.6"/>
<polyline points="319.2,320.8 326.7,315.0" fill="none" stroke="#4a3a55" stroke-width="0.6"/>
<polyline points="298.3,223.3 313.3,221.7 316.7,228.3 320.0,220.0" fill="none" stroke="#4a3a55" stroke-width="0.6"/>
<polyline points="225.0,340.0 226.7,350.0 215.0,365.0 210.0,373.3 201.7,378.3 193.3,371.7" fill="none" stroke="#4a3a55" stroke-width="0.6"/>
<polyline points="226.7,350.0 233.3,360.0 238.3,368.3 255.0,373.3 256.7,365.0 263.3,371.7" fill="none" stroke="#4a3a55" stroke-width="0.6"/>
<polyline points="201.7,378.3 208.3,381.7 211.7,395.0 208.3,413.3 211.7,421.7 203.3,428.3 198.3,436.7 195.8,440.0" fill="none" stroke="#4a3a55" stroke-width="0.6"/>
<polyline points="255.0,373.3 260.0,383.3 256.7,390.0 266.7,381.7 276.7,383.3" fill="none" stroke="#4a3a55" stroke-width="0.6"/>
<polyline points="256.7,390.0 253.3,395.0 261.7,403.3" fill="none" stroke="#4a3a55" stroke-width="0.6"/>
<polyline points="178.3,395.0 185.0,400.0 186.7,410.0 193.3,418.3 190.0,430.0 193.3,438.3" fill="none" stroke="#4a3a55" stroke-width="0.6"/>
<polyline points="211.7,421.7 226.7,418.3 243.3,416.7" fill="none" stroke="#4a3a55" stroke-width="0.6"/>
<polyline points="211.7,421.7 216.7,426.7 230.0,433.3 233.3,438.3 236.7,430.8 246.7,428.3 247.5,421.7" fill="none" stroke="#4a3a55" stroke-width="0.6"/>
<polyline points="243.3,438.3 248.3,441.7 258.3,441.7" fill="none" stroke="#4a3a55" stroke-width="0.6"/>
<polyline points="246.7,428.3 243.3,438.3" fill="none" stroke="#4a3a55" stroke-width="0.6"/>
<polyline points="175.0,388.3 178.3,395.0 170.0,406.7" fill="none" stroke="#4a3a55" stroke-width="0.6"/>
<polyline points="276.7,383.3 283.3,390.0 288.3,385.0 293.3,378.3" fill="none" stroke="#4a3a55" stroke-width="0.6"/>
<polyline points="283.3,390.0 286.7,386.7 300.0,386.7 305.0,390.0" fill="none" stroke="#4a3a55" stroke-width="0.6"/>
<polyline points="300.0,386.7 306.7,401.7 310.0,403.3" fill="none" stroke="#4a3a55" stroke-width="0.6"/>
<polyline points="276.7,426.7 286.7,445.0 298.3,443.3" fill="none" stroke="#4a3a55" stroke-width="0.6"/>
<polyline points="310.0,403.3 306.7,420.0 310.0,433.3 306.7,440.0" fill="none" stroke="#4a3a55" stroke-width="0.6"/>
<polyline points="333.3,411.7 343.3,421.7 353.3,423.3 360.0,413.3" fill="none" stroke="#4a3a55" stroke-width="0.6"/>
<polyline points="306.7,440.0 316.7,438.3 325.0,440.0 336.7,435.0 343.3,421.7" fill="none" stroke="#4a3a55" stroke-width="0.6"/>
<polyline points="336.7,435.0 340.0,446.7 345.0,456.7 351.7,466.7 360.0,473.3" fill="none" stroke="#4a3a55" stroke-width="0.6"/>
<polyline points="316.7,438.3 320.0,446.7 318.3,456.7 325.0,468.3 335.0,471.7 345.0,456.7" fill="none" stroke="#4a3a55" stroke-width="0.6"/>
<polyline points="343.3,361.7 351.7,370.0 360.0,365.0" fill="none" stroke="#4a3a55" stroke-width="0.6"/>
<polyline points="336.7,373.3 350.0,378.3 360.0,370.0" fill="none" stroke="#4a3a55" stroke-width="0.6"/>
<polyline points="333.3,398.3 343.3,406.7 353.3,403.3 360.0,395.0" fill="none" stroke="#4a3a55" stroke-width="0.6"/>
<polyline points="453.3,370.0 456.7,356.7 465.0,353.3 473.3,363.3 470.0,378.3 460.0,383.3 453.3,370.0" fill="none" stroke="#4a3a55" stroke-width="0.6"/>
<polyline points="473.3,363.3 483.3,366.7 490.0,373.3 480.0,383.3 470.0,378.3" fill="none" stroke="#4a3a55" stroke-width="0.6"/>
<polyline points="460.0,383.3 455.0,395.0 460.0,406.7 461.7,420.0 473.3,423.3" fill="none" stroke="#4a3a55" stroke-width="0.6"/>
<polyline points="470.0,378.3 471.7,395.0 480.0,403.3 481.7,416.7 473.3,423.3" fill="none" stroke="#4a3a55" stroke-width="0.6"/>
<polyline points="480.0,403.3 490.0,410.0 500.8,413.3" fill="none" stroke="#4a3a55" stroke-width="0.6"/>
<polyline points="533.3,383.3 536.7,391.7 546.7,391.7 560.0,390.0 565.0,391.7" fill="none" stroke="#4a3a55" stroke-width="0.6"/>
<polyline points="546.7,391.7 545.0,401.7" fill="none" stroke="#4a3a55" stroke-width="0.6"/>
<polyline points="533.3,383.3 541.7,371.7 556.7,365.0" fill="none" stroke="#4a3a55" stroke-width="0.6"/>
<polyline points="440.0,446.7 450.0,440.0 461.7,438.3 470.0,443.3 468.3,455.0 461.7,456.7" fill="none" stroke="#4a3a55" stroke-width="0.6"/>
<polyline points="491.7,446.7 496.7,456.7 510.0,455.0 518.3,466.7 530.0,473.3" fill="none" stroke="#4a3a55" stroke-width="0.6"/>
<polyline points="510.0,455.0 515.0,443.3 526.7,440.0" fill="none" stroke="#4a3a55" stroke-width="0.6"/>
<polyline points="518.3,466.7 521.7,450.0 530.8,446.7" fill="none" stroke="#4a3a55" stroke-width="0.6"/>
<polyline points="545.0,440.0 556.7,455.0 553.3,466.7 543.3,473.3 540.0,481.0" fill="none" stroke="#4a3a55" stroke-width="0.6"/>
<polyline points="556.7,455.0 566.7,463.3" fill="none" stroke="#4a3a55" stroke-width="0.6"/>
<polyline points="481.7,416.7 485.0,433.3 483.3,453.3 491.7,446.7" fill="none" stroke="#4a3a55" stroke-width="0.6"/>
<polyline points="461.7,456.7 473.3,466.7 483.3,453.3" fill="none" stroke="#4a3a55" stroke-width="0.6"/>
<polyline points="473.3,466.7 465.0,481.0" fill="none" stroke="#4a3a55" stroke-width="0.6"/>
<polyline points="495.0,613.3 515.8,601.7 533.3,617.5 526.7,628.3 525.0,630.0" fill="none" stroke="#4a3a55" stroke-width="0.6"/>
<polyline points="533.3,617.5 548.3,611.7 556.7,636.7 560.0,640.0 568.3,633.3" fill="none" stroke="#4a3a55" stroke-width="0.6"/>
<polyline points="548.3,611.7 558.3,610.0 581.7,596.7" fill="none" stroke="#4a3a55" stroke-width="0.6"/>
<polyline points="526.7,640.0 556.7,643.3 566.7,636.7" fill="none" stroke="#4a3a55" stroke-width="0.6"/>
<polyline points="526.7,640.0 531.7,648.3 543.3,660.0 563.3,655.0 573.3,650.0" fill="none" stroke="#4a3a55" stroke-width="0.6"/>
<polyline points="563.3,655.0 570.0,670.0 575.0,683.3" fill="none" stroke="#4a3a55" stroke-width="0.6"/>
<polyline points="470.0,650.0 483.3,670.0 498.3,668.3 515.0,660.0 516.7,653.3 510.0,646.7" fill="none" stroke="#4a3a55" stroke-width="0.6"/>
<polyline points="483.3,670.0 476.7,676.7" fill="none" stroke="#4a3a55" stroke-width="0.6"/>
<polyline points="515.0,660.0 523.3,670.0 533.3,680.0 528.3,686.7 540.0,696.7 543.3,701.7" fill="none" stroke="#4a3a55" stroke-width="0.6"/>
<polyline points="523.3,670.0 530.0,663.3" fill="none" stroke="#4a3a55" stroke-width="0.6"/>
<polyline points="556.7,605.0 576.7,595.0 585.0,599.2" fill="none" stroke="#4a3a55" stroke-width="0.6"/>
<polyline points="590.0,593.3 595.0,585.0 605.0,586.7 606.7,580.0" fill="none" stroke="#4a3a55" stroke-width="0.6"/>
<polyline points="613.3,595.0 623.3,601.7 628.3,616.7 623.3,626.7 613.3,625.0 611.7,630.0" fill="none" stroke="#4a3a55" stroke-width="0.6"/>
<polyline points="595.0,636.7 605.0,655.0 613.3,648.3 630.0,643.3 640.0,648.3" fill="none" stroke="#4a3a55" stroke-width="0.6"/>
<polyline points="623.3,601.7 640.0,596.7" fill="none" stroke="#4a3a55" stroke-width="0.6"/>
<polyline points="551.7,580.8 566.7,566.7 583.3,570.0 593.3,561.7" fill="none" stroke="#4a3a55" stroke-width="0.6"/>
<polyline points="563.3,560.0 566.7,566.7" fill="none" stroke="#4a3a55" stroke-width="0.6"/>
<polyline points="583.3,570.0 593.3,581.7 603.3,591.7" fill="none" stroke="#4a3a55" stroke-width="0.6"/>
<polyline points="590.8,595.0 593.3,585.0 603.3,583.3 606.7,590.0 601.7,595.8 590.8,595.0" fill="none" stroke="#4a3a55" stroke-width="0.6"/>
<polyline points="548.3,611.7 555.0,630.0 558.3,638.3 566.7,633.3" fill="none" stroke="#4a3a55" stroke-width="0.6"/>
<polyline points="526.7,641.7 555.0,630.0" fill="none" stroke="#4a3a55" stroke-width="0.6"/>
<polyline points="528.3,633.3 548.3,611.7" fill="none" stroke="#4a3a55" stroke-width="0.6"/>
<polyline points="558.3,638.3 563.3,653.3 566.7,655.0" fill="none" stroke="#4a3a55" stroke-width="0.6"/>
<polyline points="530.8,650.0 541.7,660.0 563.3,653.3" fill="none" stroke="#4a3a55" stroke-width="0.6"/>
<polyline points="593.3,630.0 598.3,646.7" fill="none" stroke="#4a3a55" stroke-width="0.6"/>
<polyline points="600.0,630.0 615.0,625.0 623.3,626.7 633.3,631.7" fill="none" stroke="#4a3a55" stroke-width="0.6"/>
<polyline points="623.3,608.3 626.7,598.3" fill="none" stroke="#4a3a55" stroke-width="0.6"/>
<polyline points="623.3,626.7 626.7,643.3 616.7,646.7" fill="none" stroke="#4a3a55" stroke-width="0.6"/>
<polyline points="645.0,605.0 666.7,626.7" fill="none" stroke="#4a3a55" stroke-width="0.6"/>
<polyline points="664.2,595.0 667.5,617.5 682.5,622.5 690.8,615.0 687.5,590.8" fill="none" stroke="#4a3a55" stroke-width="0.6"/>
<polyline points="645.0,605.0 664.2,595.0" fill="none" stroke="#4a3a55" stroke-width="0.6"/>
<polyline points="403.3,578.3 411.7,578.3 421.7,590.0 430.0,581.7 436.7,581.7" fill="none" stroke="#4a3a55" stroke-width="0.6"/>
<polyline points="424.2,593.3 421.7,590.0" fill="none" stroke="#4a3a55" stroke-width="0.6"/>
<polyline points="426.7,560.0 436.7,563.3 438.3,575.0 443.3,581.7 436.7,581.7" fill="none" stroke="#4a3a55" stroke-width="0.6"/>
<polyline points="438.3,575.0 446.7,570.0 448.3,561.7 453.3,558.3 463.3,560.0 471.7,556.7" fill="none" stroke="#4a3a55" stroke-width="0.6"/>
<polyline points="443.3,581.7 441.7,591.7 446.7,593.3 453.3,583.3 448.3,576.7 446.7,570.0" fill="none" stroke="#4a3a55" stroke-width="0.6"/>
<polyline points="453.3,583.3 463.3,585.0 468.3,576.7 465.0,570.0 466.7,563.3 471.7,556.7" fill="none" stroke="#4a3a55" stroke-width="0.6"/>
<polyline points="468.3,576.7 475.0,571.7 485.0,573.3 488.3,580.0 485.0,588.3 490.0,596.7 495.0,596.7" fill="none" stroke="#4a3a55" stroke-width="0.6"/>
<polyline points="480.0,550.0 486.7,541.7 500.0,536.7 508.3,543.3 505.0,556.7 493.3,558.3 480.0,550.0" fill="none" stroke="#4a3a55" stroke-width="0.6"/>
<polyline points="456.7,630.0 466.7,625.0 475.0,621.7 480.0,626.7 493.3,633.3" fill="none" stroke="#4a3a55" stroke-width="0.6"/>
<polyline points="475.0,621.7 476.7,618.3 495.0,613.3" fill="none" stroke="#4a3a55" stroke-width="0.6"/>
<polyline points="461.7,531.7 470.0,540.0 461.7,548.3 463.3,560.0" fill="none" stroke="#4a3a55" stroke-width="0.6"/>
</g>
<polyline points="216,274 236,264 240,275 248.75,285 250,300 253.75,310 260,325 251.25,343.75 260,357.5 267.5,375 278.75,385 281.25,395 295.8,405 293.3,413.3 280,421.7 276.7,426.7 277.5,438.3 280.8,445 271.7,450 268,451.5" fill="none" stroke="#000" stroke-width="1.9" stroke-linejoin="round"/>
<polyline points="243.75,223.75 252.5,230 260,225 267.5,232.5 275,223.75 295,225 297.5,237.5 310,245 325,252.5 341.25,258.75 335,263.75 342.5,272.5 325,275 330,285 340,287.5 352,297 350,318 356.7,320 365,322.5 366.7,326.7 365,338.3 371.7,345 363.3,353.3 373.3,352.5 387.5,355.8 393.3,362.5" fill="none" stroke="#000" stroke-width="1.9" stroke-linejoin="round"/>
<polyline points="393.3,362.5 402.5,355.8 413.3,345 418.3,335.8 437.5,333.3 446.7,335.8 456.7,332.5 464.2,329.2" fill="none" stroke="#000" stroke-width="1.9" stroke-linejoin="round"/>
<polyline points="393.3,362.5 391.7,366.7 398.3,371.7 406.7,366.7 410.8,370 411.7,380 417.5,385.8 428.3,390 430.8,395 434,394 430.8,400 417.5,400 415,407.5 406.7,409 403.3,411.7 388.3,418.3 380,420 375.8,428.3 372.5,430 372.5,440 375,452.5 380,455 386.7,465 392.5,470.8 388.3,477.5 396.7,480" fill="none" stroke="#000" stroke-width="1.9" stroke-linejoin="round"/>
<polyline points="375,452.5 361.25,461.25 356.25,482.5 335,501.25 332.5,502.5" fill="none" stroke="#000" stroke-width="1.9" stroke-linejoin="round"/>
<polyline points="396.7,480 389.2,490 390,508.3 397.5,521.7 401.7,526.7" fill="none" stroke="#000" stroke-width="1.9" stroke-linejoin="round"/>
<polyline points="396.7,480 395.8,458.3 400,453.3 411.7,448.3 426.7,454.2 441.7,455.8 460,458.3 463.3,471.7 459.2,478.3 468.3,490 480,486.7 515,480.8 516.7,488.3 503.3,508.3 515,523.3 518.3,525" fill="none" stroke="#000" stroke-width="1.9" stroke-linejoin="round"/>
<polyline points="407.5,556 417.5,557.5 425,553.75 442.5,550 446.25,542.5 462.5,536.25 475,535 486.25,540 492.5,533.75 502.5,532.5 517.5,526.25" fill="none" stroke="#000" stroke-width="1.9" stroke-linejoin="round"/>
<polyline points="518.3,525 536.7,515 540,505.8 540.8,502.5 550,498.3 555,507.5 573.3,513.3 578.3,510.8 581,502.5" fill="none" stroke="#000" stroke-width="1.9" stroke-linejoin="round"/>
<polyline points="517.5,526.25 520,540 532.5,555 540,562.5 545,570 537.5,570 522.5,577.5 526.7,586.7 515,597.5 496.7,595.8 499.2,603.3 495,613.3 513.3,634.2 511.7,643.3 495,634.2 481.7,648.3 469.2,650" fill="none" stroke="#000" stroke-width="1.9" stroke-linejoin="round"/>
<polyline points="526.7,586.7 540,595 552.5,602.5 572.5,596.25 585,599 587.5,611 602.5,612.5" fill="none" stroke="#000" stroke-width="1.9" stroke-linejoin="round"/>
<polyline points="620,572.5 607.5,578.75 603.75,590 587.5,600" fill="none" stroke="#000" stroke-width="1.9" stroke-linejoin="round"/>
<polyline points="602.5,612.5 602.5,620 590,632.5 585,645 582.5,655 592.5,660 582.5,667.5 580,685 585,697.5 583.75,720" fill="none" stroke="#000" stroke-width="1.9" stroke-linejoin="round"/>
<polyline points="617.3,458.7 604,454.7 600,464 585.3,474.7 586.7,485.3 590,497.5 580,501.3 582.5,512.5 587.5,525 590,535 605,542.5 625,547.5 635,555 620,572.5 630,580 632.5,590 642.5,595 660,582.5 652.5,567.5 660,570 672.5,580 685,565 700,570 712.5,560 715,570 730,570 738.75,567.5 741.25,550 742.5,535 740,520 726.25,520 727.5,502.5 721.25,495 720,472.5 710,470 704,460 711,450 715,442.5" fill="none" stroke="#000" stroke-width="1.9" stroke-linejoin="round"/>
<polyline points="630.7,454.7 617.3,458.7 620,464 626.7,469.3 634.7,477.3 640,476.7 652,480 656,482.7 660,476 665.3,474.7 672,477.3 681.3,469.3 686.7,465.3 692,466.7 700,460 708,453.3 713.3,447" fill="none" stroke="#000" stroke-width="1.9" stroke-linejoin="round"/>
<polyline points="642.5,595 640,615 636.25,630 633.75,635 640,647.5 640,665 646.25,670 660,692.5" fill="none" stroke="#000" stroke-width="1.9" stroke-linejoin="round"/>
<polyline points="721.25,495 730,500 745,497.5 750,475 767.5,477.5" fill="none" stroke="#000" stroke-width="1.9" stroke-linejoin="round"/>
<polyline points="767.5,477.5 770,502.5 772.5,522.5 775,530 787.5,538.75 797.5,537.5 817.5,538.75 817.5,550 830,548.75" fill="none" stroke="#000" stroke-width="1.9" stroke-linejoin="round"/>
<polyline points="740,520 752.5,522.5 762.5,520 772.5,522.5" fill="none" stroke="#000" stroke-width="1.9" stroke-linejoin="round"/>
<polyline points="817.5,550 815,555 802.5,566.25 807.5,580 805,590 790,587.5 780,585 775,576.25 740,575 738.75,567.5" fill="none" stroke="#000" stroke-width="1.9" stroke-linejoin="round"/>
<polyline points="805,590 810,610 828.3,611.7 838.3,608.3 850,603.3" fill="none" stroke="#000" stroke-width="1.9" stroke-linejoin="round"/>
<polyline points="810,610 802,612 796.7,616.7 794.2,625.8 786.7,633.3 776.25,642.5 780,655 800,667.5 812.5,682.5 825,690 835,705 836.25,711.25 830,717.5 826.25,735 821.25,745 818.75,752.5" fill="none" stroke="#000" stroke-width="1.9" stroke-linejoin="round"/>
<polyline points="836.25,711.25 852.5,712.5 860,702.5 872.5,695 876.25,677.5 886.7,674.2 900,673.3 911.7,674.2 915,680 926.7,686.7 932,688" fill="none" stroke="#000" stroke-width="1.9" stroke-linejoin="round"/>
<polyline points="660,693.3 675,698.3 680,696.7 684.2,701.7 686.7,688.3 693.3,681.7 690,671.7 687.5,660 693.3,655 702.5,655 725,656.25 735,652.5 748.75,657.5 750,667.5 741.25,677.5 745,695 755,712.5 762.5,722.5 767.5,741.25 785,742.5 792.5,750 796,754" fill="none" stroke="#000" stroke-width="1.9" stroke-linejoin="round"/>
<polyline points="585,700 595,701 606.25,697.5 607.5,691.25 632.5,697.5 640,692.5 655,690 660,693.3 653.3,706.7 658.3,713.3 670,726.7 673.3,736.7 672.5,747.5" fill="none" stroke="#000" stroke-width="1.9" stroke-linejoin="round"/>
<polyline points="581.7,363 579.2,370 578.3,390 566.7,392 558.3,405.3 563,418.3 560.3,429.2 566.7,433.3 585,438.3 600,443.3 616,442.7 626.7,449.3 630.7,454.7" fill="none" stroke="#000" stroke-width="1.9" stroke-linejoin="round"/>
<polyline points="640,383.75 637.5,390 621.25,393.75 620,402.5 612.5,415 610.5,421 594,424 594.7,433.3 593.3,440" fill="none" stroke="#000" stroke-width="1.9" stroke-linejoin="round"/>
<polyline points="780.0,445.8 770.8,463.3 767.5,474.2 768.3,477.5" fill="none" stroke="#000" stroke-width="1.9" stroke-linejoin="round"/>
<polyline points="768.3,477.5 776.7,482.5 788.3,480.8 790.8,486.7 794.2,495.0" fill="none" stroke="#000" stroke-width="1.9" stroke-linejoin="round"/>
<polyline points="363.3,353.3 369,362" fill="none" stroke="#000" stroke-width="1.9" stroke-linejoin="round"/>
<polygon points="443.75,118.75 460,125 463.75,137.5 475,143.75 467.5,160 460,167.5 461.25,175 476.25,188.75 470,198.75 472.5,210 462.5,213.75 452.5,210 446.25,222.5 435,225 412.5,228.75 398.75,231.25 392,236.25 397.5,250 408.75,258.75 416.25,275 423.75,278.75 430,271.25 438.75,272.5 450,287.5 452.5,297.5 458.75,302.5 462.5,317.5 467.5,332.5 468.75,342.5 477.5,348.75 490,356.25 495,367.5 507.5,380 517.5,378.75 530,380 540,370 550,362.5 565,357.5 572.5,358.75 580,363.75 590,362.5 592.5,350 587.5,343.75 575,347.5 572.5,340 577.5,330 590,326.25 602.5,331.25 605,338.75 613.75,342.5 615,355 620,362.5 617.5,372.5 630,377.5 640,383.75 647.5,377.5 665,378.75 670,390 672.5,400 687.5,401.25 697.5,407.5 700,425 705,435 715,442.5 722.5,436.25 720,422.5 730,425 740,431.25 755,430 767.5,432.5 780,445 790,453.75 800,460 812.5,462.5 817.5,447.5 825,452.5 831.25,450 831.25,465 827.5,478 832.5,486.25 843.75,493.75 840,502.5 826.25,515 830,527.5 835,542.5 837.5,555 840.8,560 844.2,571.7 847.5,581.7 846.7,593.3 850,603.3 863.3,608.3 875,609.2 881.7,612.5 884.2,618.3 886.7,625.8 896.7,630 901.7,631.7 911.7,627.5 920,630 927.5,636.7 926.7,646.7 929.2,660 930.8,673.3 932.5,686.7 935.8,695 937.5,697.5 936.25,717.5 943.75,727.5 942.5,737.5 933.75,742.5 938.75,752.5 925,752.5 910,760 891.25,770 877.5,765 865,760 852.5,755 835,760 821.25,757.5 817.5,750 805,750 795,755 788.75,765 792.5,773.75 790,785 776.25,795 765,802.5 756.25,813.75 746.25,827.5 732.5,827.5 717.5,821.25 703.75,816.25 706.25,805 703.75,795 697.5,786.25 683.75,775 678.75,760 672.5,747.5 655,756.25 645,750 630,745 620,737.5 615,727.5 601.25,730 597.5,723.75 582.5,722.5 570,723.75 552.5,726.25 537.5,728.75 535,720 530,708.75 520,703.75 502.5,701.25 496.25,695 495,685 485,680 473.75,690 466.25,678.75 476.25,670 471.25,657.5 467.5,645 457.5,636.25 446.25,628.75 438.75,620 436.25,612.5 430,600 425,592.5 417.5,600 402.5,590 400,565 407.5,556.25 410,545 405,535 401.25,527.5 382.5,531.25 372.5,537.5 365,531.25 351.25,527.5 345,520 331.25,512.5 332.5,502.5 322.5,492.5 316.25,480 317.5,467.5 313.75,455 310,441.25 302.5,442.5 306.25,455 305,466.25 296.25,472.5 293.75,465 282.5,472.5 277.5,486.25 268.75,495 260,482.5 257.5,475 265,460 267.5,450 257.5,442.5 242.5,445 222.5,455 216.25,470 211.25,465 200,466.25 190,460 193.75,442.5 177.5,445 170,432.5 163.75,420 167.5,410 172.5,400 173.75,387.5 188.75,377.5 191.25,367.5 185,356.25 175,345 182.5,325 192.5,312.5 206.25,300 212.5,290 216,275 212.5,262.5 225,251 223.75,243.75 225,232.5 243.75,223.75 246,216 255,213.75 260,205 270,203.75 280,200 290,186 295,181 302.5,190 313.75,191 316,175 320,162.5 332.5,160 335,151 350,147.5 365,151.25 380,156.25 396.25,151.25 405,160 418.75,156.25 432.5,147.5 442.5,138.75" fill="none" stroke="#000" stroke-width="4" stroke-linejoin="round"/>
<polygon points="715.3,435.8 719.7,430.0 728.0,428.7 729.7,433.7 723.7,437.5 717.5,439.7" fill="#000"/>
<g transform="translate(686.0,53.5) scale(0.517)">
<g clip-path="url(#cp)">
<rect x="150" y="100" width="820" height="740" fill="#b08fc3"/>
<polygon points="480,329 464.2,329.2 456.7,332.5 446.7,335.8 437.5,333.3 418.3,335.8 413.3,345 402.5,355.8 393.3,362.5 391.7,366.7 398.3,371.7 406.7,366.7 410.8,370 411.7,380 417.5,385.8 428.3,390 430.8,395 434,394 430.8,400 417.5,400 415,407.5 406.7,409 403.3,411.7 388.3,418.3 380,420 375.8,428.3 372.5,430 372.5,440 375,452.5 380,455 386.7,465 392.5,470.8 388.3,477.5 396.7,480 395.8,458.3 400,453.3 411.7,448.3 426.7,454.2 441.7,455.8 460,458.3 463.3,471.7 459.2,478.3 468.3,490 480,486.7 515,480.8 516.7,488.3 503.3,508.3 515,523.3 518.3,525 520,540 532.5,555 540,562.5 545,570 537.5,570 522.5,577.5 526.7,586.7 515,597.5 496.7,595.8 499.2,603.3 495,613.3 513.3,634.2 511.7,643.3 495,634.2 481.7,648.3 469.2,650 440,660 100,660 100,100 480,100" fill="#e4d5f1"/>
<polygon points="780,445.8 770.8,463.3 767.5,474.2 768.3,477.5 770,502.5 772.5,522.5 775,530 787.5,538.75 797.5,537.5 817.5,538.75 817.5,550 830,548.75 870,548 870,430 780,430" fill="#e4d5f1"/>
<polygon points="581.7,363 579.2,370 578.3,390 566.7,392 558.3,405.3 563,418.3 560.3,429.2 566.7,433.3 585,438.3 593.3,440 594.7,433.3 594,424 610.5,421 612.5,415 620,402.5 621.25,393.75 637.5,390 640,383.75 640,300 582,300" fill="#84579a"/>
<polygon points="640,383.75 637.5,390 621.25,393.75 620,402.5 612.5,415 610.5,421 594,424 594.7,433.3 593.3,440 600,443.3 616,442.7 626.7,449.3 630.7,454.7 617.3,458.7 620,464 626.7,469.3 634.7,477.3 640,476.7 652,480 656,482.7 660,476 665.3,474.7 672,477.3 681.3,469.3 686.7,465.3 692,466.7 700,460 708,453.3 713.3,447 715,442.5 720,380 640,360" fill="#84579a"/>
<polygon points="817.5,550 815,555 802.5,566.25 807.5,580 805,590 810,610 828.3,611.7 838.3,608.3 850,603.3 880,600 880,545 830,548.75" fill="#84579a"/>
<polygon points="585,700 595,701 606.25,697.5 607.5,691.25 632.5,697.5 640,692.5 655,690 660,693.3 653.3,706.7 658.3,713.3 670,726.7 673.3,736.7 672.5,747.5 672,780 575,780 583.75,720" fill="#84579a"/>
<polygon points="642.5,595 660,582.5 652.5,567.5 660,570 672.5,580 685,565 700,570 712.5,560 715,570 730,570 738.75,567.5 740,575 775,576.25 780,585 790,587.5 805,590 810,610 802,612 796.7,616.7 794.2,625.8 786.7,633.3 776.25,642.5 780,655 800,667.5 812.5,682.5 825,690 835,705 836.25,711.25 830,717.5 826.25,735 821.25,745 818.75,752.5 815,770 796,770 796,754 792.5,750 785,742.5 767.5,741.25 762.5,722.5 755,712.5 745,695 741.25,677.5 750,667.5 748.75,657.5 735,652.5 725,656.25 702.5,655 693.3,655 687.5,660 690,671.7 693.3,681.7 686.7,688.3 684.2,701.7 680,696.7 675,698.3 660,693.3 646.25,670 640,665 640,647.5 633.75,635 636.25,630 640,615" fill="#84579a"/>
</g>
<polyline points="216,274 236,264 240,275 248.75,285 250,300 253.75,310 260,325 251.25,343.75 260,357.5 267.5,375 278.75,385 281.25,395 295.8,405 293.3,413.3 280,421.7 276.7,426.7 277.5,438.3 280.8,445 271.7,450 268,451.5" fill="none" stroke="#000" stroke-width="1.93" stroke-linejoin="round"/>
<polyline points="243.75,223.75 252.5,230 260,225 267.5,232.5 275,223.75 295,225 297.5,237.5 310,245 325,252.5 341.25,258.75 335,263.75 342.5,272.5 325,275 330,285 340,287.5 352,297 350,318 356.7,320 365,322.5 366.7,326.7 365,338.3 371.7,345 363.3,353.3 373.3,352.5 387.5,355.8 393.3,362.5" fill="none" stroke="#000" stroke-width="1.93" stroke-linejoin="round"/>
<polyline points="393.3,362.5 402.5,355.8 413.3,345 418.3,335.8 437.5,333.3 446.7,335.8 456.7,332.5 464.2,329.2" fill="none" stroke="#000" stroke-width="1.93" stroke-linejoin="round"/>
<polyline points="393.3,362.5 391.7,366.7 398.3,371.7 406.7,366.7 410.8,370 411.7,380 417.5,385.8 428.3,390 430.8,395 434,394 430.8,400 417.5,400 415,407.5 406.7,409 403.3,411.7 388.3,418.3 380,420 375.8,428.3 372.5,430 372.5,440 375,452.5 380,455 386.7,465 392.5,470.8 388.3,477.5 396.7,480" fill="none" stroke="#000" stroke-width="1.93" stroke-linejoin="round"/>
<polyline points="375,452.5 361.25,461.25 356.25,482.5 335,501.25 332.5,502.5" fill="none" stroke="#000" stroke-width="1.93" stroke-linejoin="round"/>
<polyline points="396.7,480 389.2,490 390,508.3 397.5,521.7 401.7,526.7" fill="none" stroke="#000" stroke-width="1.93" stroke-linejoin="round"/>
<polyline points="396.7,480 395.8,458.3 400,453.3 411.7,448.3 426.7,454.2 441.7,455.8 460,458.3 463.3,471.7 459.2,478.3 468.3,490 480,486.7 515,480.8 516.7,488.3 503.3,508.3 515,523.3 518.3,525" fill="none" stroke="#000" stroke-width="1.93" stroke-linejoin="round"/>
<polyline points="407.5,556 417.5,557.5 425,553.75 442.5,550 446.25,542.5 462.5,536.25 475,535 486.25,540 492.5,533.75 502.5,532.5 517.5,526.25" fill="none" stroke="#000" stroke-width="1.93" stroke-linejoin="round"/>
<polyline points="518.3,525 536.7,515 540,505.8 540.8,502.5 550,498.3 555,507.5 573.3,513.3 578.3,510.8 581,502.5" fill="none" stroke="#000" stroke-width="1.93" stroke-linejoin="round"/>
<polyline points="517.5,526.25 520,540 532.5,555 540,562.5 545,570 537.5,570 522.5,577.5 526.7,586.7 515,597.5 496.7,595.8 499.2,603.3 495,613.3 513.3,634.2 511.7,643.3 495,634.2 481.7,648.3 469.2,650" fill="none" stroke="#000" stroke-width="1.93" stroke-linejoin="round"/>
<polyline points="526.7,586.7 540,595 552.5,602.5 572.5,596.25 585,599 587.5,611 602.5,612.5" fill="none" stroke="#000" stroke-width="1.93" stroke-linejoin="round"/>
<polyline points="620,572.5 607.5,578.75 603.75,590 587.5,600" fill="none" stroke="#000" stroke-width="1.93" stroke-linejoin="round"/>
<polyline points="602.5,612.5 602.5,620 590,632.5 585,645 582.5,655 592.5,660 582.5,667.5 580,685 585,697.5 583.75,720" fill="none" stroke="#000" stroke-width="1.93" stroke-linejoin="round"/>
<polyline points="617.3,458.7 604,454.7 600,464 585.3,474.7 586.7,485.3 590,497.5 580,501.3 582.5,512.5 587.5,525 590,535 605,542.5 625,547.5 635,555 620,572.5 630,580 632.5,590 642.5,595 660,582.5 652.5,567.5 660,570 672.5,580 685,565 700,570 712.5,560 715,570 730,570 738.75,567.5 741.25,550 742.5,535 740,520 726.25,520 727.5,502.5 721.25,495 720,472.5 710,470 704,460 711,450 715,442.5" fill="none" stroke="#000" stroke-width="1.93" stroke-linejoin="round"/>
<polyline points="630.7,454.7 617.3,458.7 620,464 626.7,469.3 634.7,477.3 640,476.7 652,480 656,482.7 660,476 665.3,474.7 672,477.3 681.3,469.3 686.7,465.3 692,466.7 700,460 708,453.3 713.3,447" fill="none" stroke="#000" stroke-width="1.93" stroke-linejoin="round"/>
<polyline points="642.5,595 640,615 636.25,630 633.75,635 640,647.5 640,665 646.25,670 660,692.5" fill="none" stroke="#000" stroke-width="1.93" stroke-linejoin="round"/>
<polyline points="721.25,495 730,500 745,497.5 750,475 767.5,477.5" fill="none" stroke="#000" stroke-width="1.93" stroke-linejoin="round"/>
<polyline points="767.5,477.5 770,502.5 772.5,522.5 775,530 787.5,538.75 797.5,537.5 817.5,538.75 817.5,550 830,548.75" fill="none" stroke="#000" stroke-width="1.93" stroke-linejoin="round"/>
<polyline points="740,520 752.5,522.5 762.5,520 772.5,522.5" fill="none" stroke="#000" stroke-width="1.93" stroke-linejoin="round"/>
<polyline points="817.5,550 815,555 802.5,566.25 807.5,580 805,590 790,587.5 780,585 775,576.25 740,575 738.75,567.5" fill="none" stroke="#000" stroke-width="1.93" stroke-linejoin="round"/>
<polyline points="805,590 810,610 828.3,611.7 838.3,608.3 850,603.3" fill="none" stroke="#000" stroke-width="1.93" stroke-linejoin="round"/>
<polyline points="810,610 802,612 796.7,616.7 794.2,625.8 786.7,633.3 776.25,642.5 780,655 800,667.5 812.5,682.5 825,690 835,705 836.25,711.25 830,717.5 826.25,735 821.25,745 818.75,752.5" fill="none" stroke="#000" stroke-width="1.93" stroke-linejoin="round"/>
<polyline points="836.25,711.25 852.5,712.5 860,702.5 872.5,695 876.25,677.5 886.7,674.2 900,673.3 911.7,674.2 915,680 926.7,686.7 932,688" fill="none" stroke="#000" stroke-width="1.93" stroke-linejoin="round"/>
<polyline points="660,693.3 675,698.3 680,696.7 684.2,701.7 686.7,688.3 693.3,681.7 690,671.7 687.5,660 693.3,655 702.5,655 725,656.25 735,652.5 748.75,657.5 750,667.5 741.25,677.5 745,695 755,712.5 762.5,722.5 767.5,741.25 785,742.5 792.5,750 796,754" fill="none" stroke="#000" stroke-width="1.93" stroke-linejoin="round"/>
<polyline points="585,700 595,701 606.25,697.5 607.5,691.25 632.5,697.5 640,692.5 655,690 660,693.3 653.3,706.7 658.3,713.3 670,726.7 673.3,736.7 672.5,747.5" fill="none" stroke="#000" stroke-width="1.93" stroke-linejoin="round"/>
<polyline points="581.7,363 579.2,370 578.3,390 566.7,392 558.3,405.3 563,418.3 560.3,429.2 566.7,433.3 585,438.3 600,443.3 616,442.7 626.7,449.3 630.7,454.7" fill="none" stroke="#000" stroke-width="1.93" stroke-linejoin="round"/>
<polyline points="640,383.75 637.5,390 621.25,393.75 620,402.5 612.5,415 610.5,421 594,424 594.7,433.3 593.3,440" fill="none" stroke="#000" stroke-width="1.93" stroke-linejoin="round"/>
<polyline points="780.0,445.8 770.8,463.3 767.5,474.2 768.3,477.5" fill="none" stroke="#000" stroke-width="1.93" stroke-linejoin="round"/>
<polygon points="443.75,118.75 460,125 463.75,137.5 475,143.75 467.5,160 460,167.5 461.25,175 476.25,188.75 470,198.75 472.5,210 462.5,213.75 452.5,210 446.25,222.5 435,225 412.5,228.75 398.75,231.25 392,236.25 397.5,250 408.75,258.75 416.25,275 423.75,278.75 430,271.25 438.75,272.5 450,287.5 452.5,297.5 458.75,302.5 462.5,317.5 467.5,332.5 468.75,342.5 477.5,348.75 490,356.25 495,367.5 507.5,380 517.5,378.75 530,380 540,370 550,362.5 565,357.5 572.5,358.75 580,363.75 590,362.5 592.5,350 587.5,343.75 575,347.5 572.5,340 577.5,330 590,326.25 602.5,331.25 605,338.75 613.75,342.5 615,355 620,362.5 617.5,372.5 630,377.5 640,383.75 647.5,377.5 665,378.75 670,390 672.5,400 687.5,401.25 697.5,407.5 700,425 705,435 715,442.5 722.5,436.25 720,422.5 730,425 740,431.25 755,430 767.5,432.5 780,445 790,453.75 800,460 812.5,462.5 817.5,447.5 825,452.5 831.25,450 831.25,465 827.5,478 832.5,486.25 843.75,493.75 840,502.5 826.25,515 830,527.5 835,542.5 837.5,555 840.8,560 844.2,571.7 847.5,581.7 846.7,593.3 850,603.3 863.3,608.3 875,609.2 881.7,612.5 884.2,618.3 886.7,625.8 896.7,630 901.7,631.7 911.7,627.5 920,630 927.5,636.7 926.7,646.7 929.2,660 930.8,673.3 932.5,686.7 935.8,695 937.5,697.5 936.25,717.5 943.75,727.5 942.5,737.5 933.75,742.5 938.75,752.5 925,752.5 910,760 891.25,770 877.5,765 865,760 852.5,755 835,760 821.25,757.5 817.5,750 805,750 795,755 788.75,765 792.5,773.75 790,785 776.25,795 765,802.5 756.25,813.75 746.25,827.5 732.5,827.5 717.5,821.25 703.75,816.25 706.25,805 703.75,795 697.5,786.25 683.75,775 678.75,760 672.5,747.5 655,756.25 645,750 630,745 620,737.5 615,727.5 601.25,730 597.5,723.75 582.5,722.5 570,723.75 552.5,726.25 537.5,728.75 535,720 530,708.75 520,703.75 502.5,701.25 496.25,695 495,685 485,680 473.75,690 466.25,678.75 476.25,670 471.25,657.5 467.5,645 457.5,636.25 446.25,628.75 438.75,620 436.25,612.5 430,600 425,592.5 417.5,600 402.5,590 400,565 407.5,556.25 410,545 405,535 401.25,527.5 382.5,531.25 372.5,537.5 365,531.25 351.25,527.5 345,520 331.25,512.5 332.5,502.5 322.5,492.5 316.25,480 317.5,467.5 313.75,455 310,441.25 302.5,442.5 306.25,455 305,466.25 296.25,472.5 293.75,465 282.5,472.5 277.5,486.25 268.75,495 260,482.5 257.5,475 265,460 267.5,450 257.5,442.5 242.5,445 222.5,455 216.25,470 211.25,465 200,466.25 190,460 193.75,442.5 177.5,445 170,432.5 163.75,420 167.5,410 172.5,400 173.75,387.5 188.75,377.5 191.25,367.5 185,356.25 175,345 182.5,325 192.5,312.5 206.25,300 212.5,290 216,275 212.5,262.5 225,251 223.75,243.75 225,232.5 243.75,223.75 246,216 255,213.75 260,205 270,203.75 280,200 290,186 295,181 302.5,190 313.75,191 316,175 320,162.5 332.5,160 335,151 350,147.5 365,151.25 380,156.25 396.25,151.25 405,160 418.75,156.25 432.5,147.5 442.5,138.75" fill="none" stroke="#000" stroke-width="4.84" stroke-linejoin="round"/>
</g>
<g fill="#fff" stroke="#000" stroke-width="1.3">
<circle cx="426.25" cy="291.5" r="6.5"/>
<circle cx="321.5" cy="363.5" r="4.9"/>
<circle cx="230.5" cy="393.5" r="4.9"/>
<circle cx="519.4" cy="413.5" r="8.7"/>
<circle cx="576.25" cy="418.25" r="4.9"/>
<circle cx="653.75" cy="452" r="4.9"/>
<circle cx="726.5" cy="453.5" r="6.5"/>
<circle cx="759.6" cy="494.6" r="6.5"/>
<circle cx="807.5" cy="506.25" r="8.7"/>
<circle cx="672" cy="515" r="11.1"/>
<circle cx="760.5" cy="543" r="8.7"/>
<circle cx="823.8" cy="584.5" r="6.5"/>
<circle cx="437" cy="521.75" r="4.9"/>
<circle cx="548.25" cy="535" r="4.9"/>
<circle cx="460" cy="591.75" r="4.9"/>
<circle cx="710" cy="621.75" r="8.7"/>
<circle cx="849" cy="647.3" r="6.5"/>
<circle cx="547.5" cy="676.25" r="6.5"/>
<circle cx="621.75" cy="664.5" r="6.5"/>
<circle cx="715.5" cy="684.6" r="4.9"/>
<circle cx="639.5" cy="714.25" r="4.9"/>
<circle cx="901.25" cy="710.5" r="4.9"/>
<circle cx="1036" cy="596" r="5.2"/>
<circle cx="1036" cy="623" r="6.9"/>
<circle cx="1036" cy="650" r="9.2"/>
<circle cx="1036" cy="678.4" r="11.4"/>
</g>
<g font-family="Liberation Sans, Arial, sans-serif" font-weight="bold" text-anchor="middle" fill="#fff" stroke="#111" stroke-width="2.8" stroke-linejoin="round" paint-order="stroke">
<text x="425.5" y="312.5" font-size="14.2">Krnov</text>
<text x="321" y="381.5" font-size="12.7">Bruntál</text>
<text x="231.5" y="412.5" font-size="12.7">Rýmařov</text>
<text x="517" y="437" font-size="15.8">Opava</text>
<text x="576.25" y="435.5" font-size="12.7">Kravaře</text>
<text x="653.75" y="470.5" font-size="12.7">Hlučín</text>
<text x="728.5" y="472.5" font-size="14.5">Bohumín</text>
<text x="757.5" y="515" font-size="14.5">Orlová</text>
<text x="808.75" y="531.5" font-size="15.8">Karviná</text>
<text x="668.5" y="544.5" font-size="17.4">Ostrava</text>
<text x="760.5" y="568" font-size="15.8">Havířov</text>
<text x="825" y="606.5" font-size="14.5">Český Těšín</text>
<text x="439.5" y="541.5" font-size="12.7">Vítkov</text>
<text x="550" y="552.5" font-size="12.7">Bílovec</text>
<text x="459.25" y="610.5" font-size="12.7">Odry</text>
<text x="711.5" y="647" font-size="15.8">Frýdek-Místek</text>
<text x="848.3" y="668.3" font-size="13.8">Třinec</text>
<text x="547.5" y="698" font-size="14.3">Nový Jičín</text>
<text x="622.5" y="686.5" font-size="14.2">Kopřivnice</text>
<text x="715" y="706" font-size="12.7">Frýdlant</text>
<text x="716.25" y="721" font-size="12.7">nad Ostravicí</text>
<text x="639.5" y="733" font-size="12.7">Frenštát</text>
<text x="640.5" y="747.5" font-size="12.7">pod Radhoštěm</text>
<text x="900.75" y="728.5" font-size="12.7">Jablunkov</text>
</g>
</svg>
<div class="t" id="title">Domácnosti vybavené internetem v obcích a správních obvodech ORP Moravskoslezského kraje</div>
<div class="t b" style="left:19px;top:508.5px;font-size:15.7px;line-height:18.2px;">podíl bytových domácností<br>vybavených osobním počítačem<br>s připojením k internetu (%)</div>
<div style="position:absolute;left:19px;top:574px;width:70px;height:22px;background:#e4d5f1"></div>
<div style="position:absolute;left:89px;top:574px;width:72px;height:22px;background:#b08fc3"></div>
<div style="position:absolute;left:161px;top:574px;width:73px;height:22px;background:#84579a"></div>
<div style="position:absolute;left:234px;top:574px;width:72px;height:22px;background:#5c2a70"></div>
<div class="t" style="left:80.5px;top:602.5px;font-size:15.3px;">50</div>
<div class="t" style="left:153.5px;top:602.5px;font-size:15.3px;">55</div>
<div class="t" style="left:225.5px;top:602.5px;font-size:15.3px;">60</div>
<div class="t" style="left:20px;top:667.8px;font-size:15.65px;line-height:18.07px;">hodnota kraje = 53,1<br><br>minimální hodnota:<br>obec - Jiříkov (18,6) (ORP Rýmařov)<br>ORP - Vítkov (44,7)<br><br>maximální hodnota:<br>obec - Čavisov (73,9) (ORP Ostrava)<br>ORP - Kravaře (56,9)</div>
<div class="t b" style="left:1016px;top:538.6px;font-size:15.6px;line-height:18.4px;">sídlo SO ORP<br>s počtem obyvatel</div>
<div class="t" style="left:1063.3px;top:589px;font-size:15.6px;">5 000 - 19 999</div>
<div class="t" style="left:1063.3px;top:616.3px;font-size:15.6px;">20 000 - 49 999</div>
<div class="t" style="left:1063.3px;top:643.3px;font-size:15.6px;">50 000 - 99 999</div>
<div class="t" style="left:1063.3px;top:672.2px;font-size:15.6px;">100 000 a více</div>
<div class="t" style="left:1010.8px;top:811px;font-size:15.53px;">Zdroj: ČSÚ, SLDB 2011</div>
</body></html>
